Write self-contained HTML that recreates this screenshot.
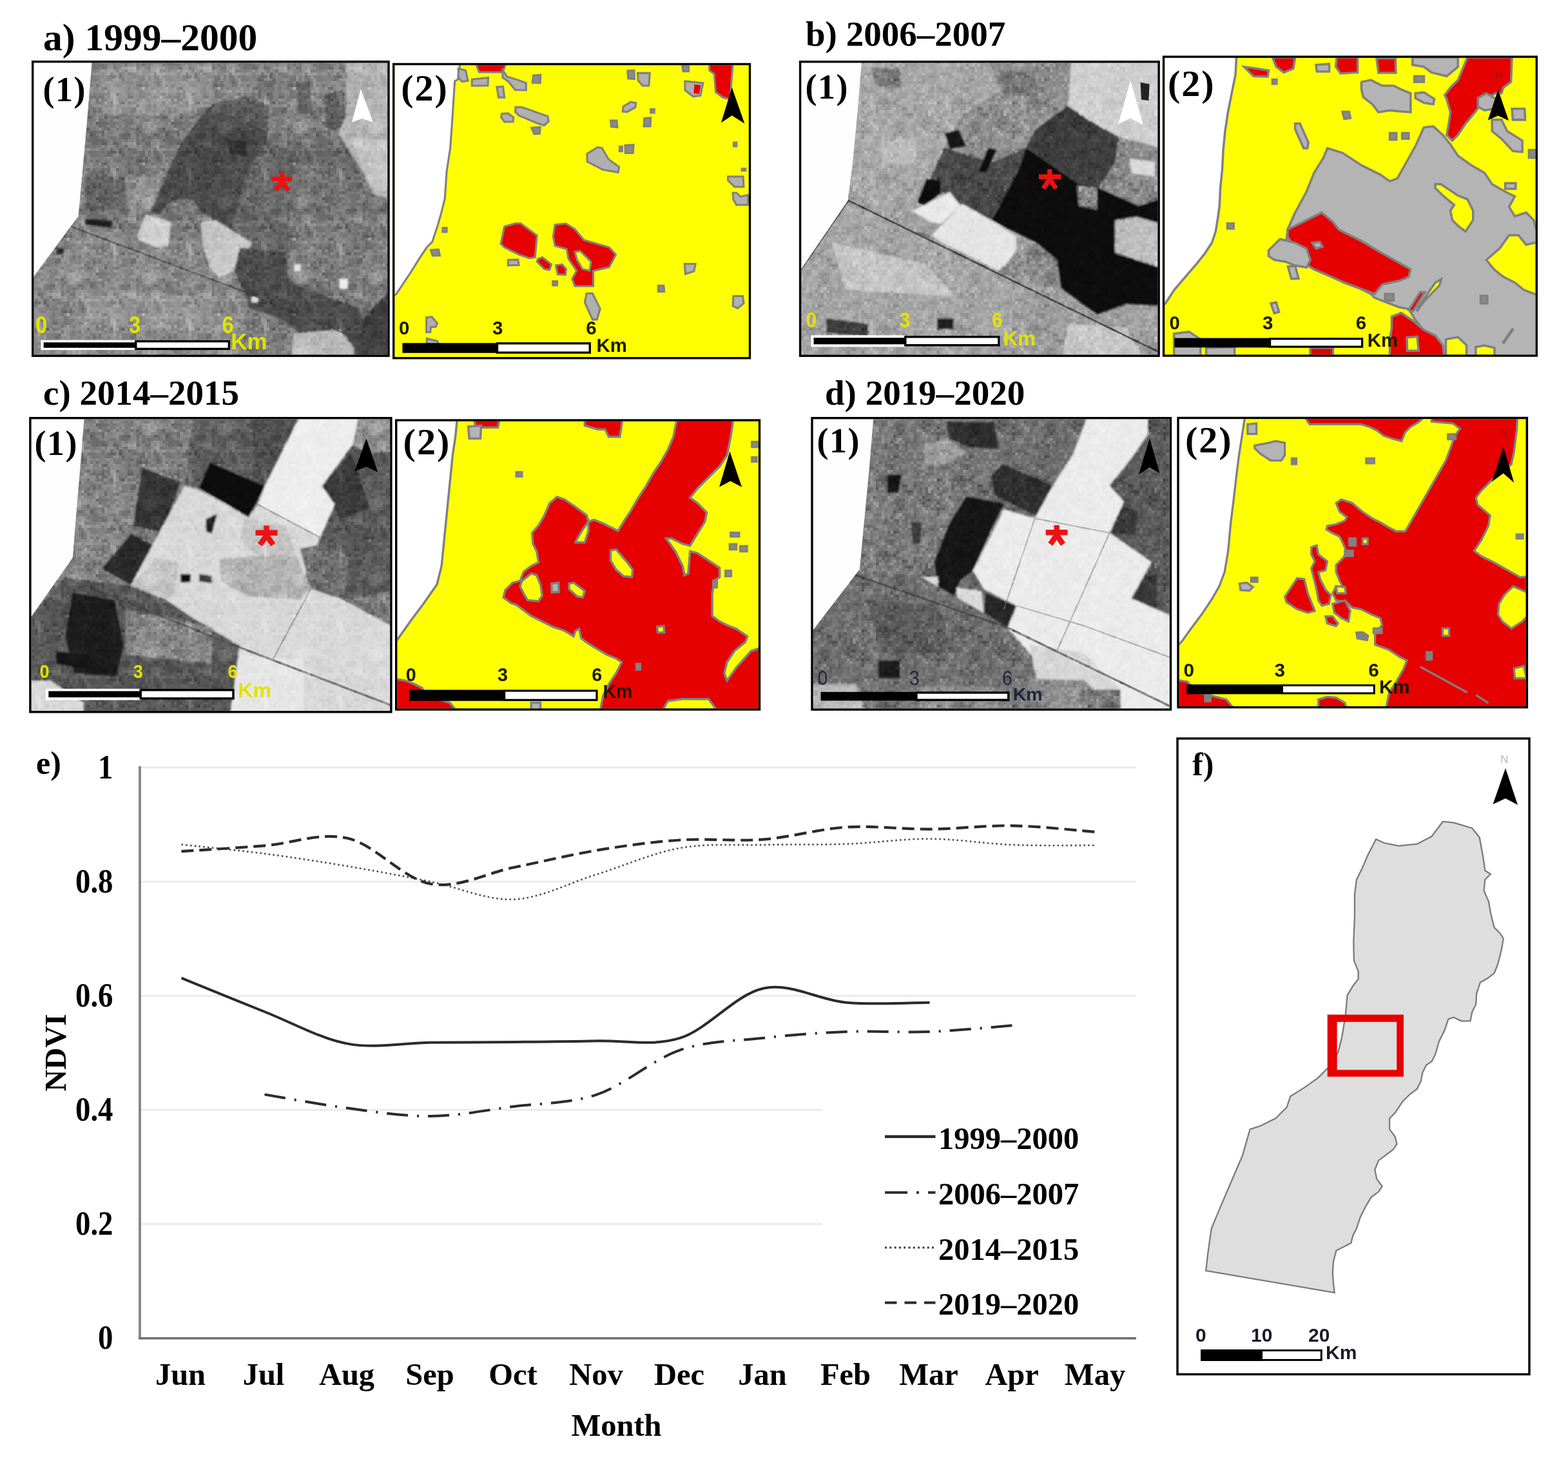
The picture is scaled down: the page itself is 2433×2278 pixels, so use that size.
<!DOCTYPE html>
<html><head><meta charset="utf-8"><title>NDVI figure</title><style>
html,body{margin:0;padding:0;background:#fff;overflow:hidden}
svg{display:block}
.t{font-family:"Liberation Serif","Times New Roman",serif;font-weight:bold;fill:#000}
.s{font-family:"Liberation Sans",Arial,sans-serif}
</style></head><body>
<svg width="2433" height="2278" viewBox="0 0 2433 2278">
<rect width="2433" height="2278" fill="#fff"/>
<!-- defs -->
<defs>
<clipPath id="ca1"><rect x="52.4" y="97.4" width="548.9" height="453.1"/></clipPath>
<clipPath id="ca2"><rect x="612.4" y="101.2" width="549.4" height="452.8"/></clipPath>
<clipPath id="cb1"><rect x="1243.3" y="97.5" width="553.1" height="453"/></clipPath>
<clipPath id="cb2"><rect x="1807.2" y="89.8" width="575.4" height="460.5"/></clipPath>
<clipPath id="cc1"><rect x="48.6" y="650.4" width="556.6" height="452.7"/></clipPath>
<clipPath id="cc2"><rect x="616.4" y="653.8" width="560.4" height="445.5"/></clipPath>
<clipPath id="cd1"><rect x="1261.7" y="650.4" width="553.1" height="449"/></clipPath>
<clipPath id="cd2"><rect x="1829.7" y="650.2" width="538" height="445.7"/></clipPath>
<filter id="noise" x="0" y="0" width="100%" height="100%">
<feTurbulence type="fractalNoise" baseFrequency="0.35" numOctaves="2" seed="3" result="n"/>
<feColorMatrix type="saturate" values="0"/>
</filter>
<filter id="blur4" x="-5%" y="-5%" width="110%" height="110%"><feGaussianBlur stdDeviation="9"/></filter>
<filter id="grain" x="0" y="0" width="100%" height="100%">
<feTurbulence type="fractalNoise" baseFrequency="0.22" numOctaves="2" seed="7"/>
<feColorMatrix type="matrix" values="0.33 0.33 0.33 0 0  0.33 0.33 0.33 0 0  0.33 0.33 0.33 0 0  0 0 0 0 1"/>
<feComponentTransfer><feFuncR type="linear" slope="2.2" intercept="-0.6"/><feFuncG type="linear" slope="2.2" intercept="-0.6"/><feFuncB type="linear" slope="2.2" intercept="-0.6"/></feComponentTransfer>
</filter>
<pattern id="pn1" width="117.0" height="117.0" patternUnits="userSpaceOnUse">
<path fill="#000" fill-opacity="0.300" d="M67.5 0.0h4.5v4.5h-4.5zM99.0 13.5h4.5v4.5h-4.5zM72.0 40.5h4.5v4.5h-4.5zM22.5 90.0h4.5v4.5h-4.5z"/>
<path fill="#000" fill-opacity="0.225" d="M54.0 0.0h4.5v4.5h-4.5zM58.5 0.0h4.5v4.5h-4.5zM72.0 4.5h4.5v4.5h-4.5zM9.0 9.0h4.5v4.5h-4.5zM94.5 13.5h4.5v4.5h-4.5zM108.0 13.5h4.5v4.5h-4.5zM45.0 18.0h4.5v4.5h-4.5zM40.5 31.5h4.5v4.5h-4.5zM81.0 31.5h4.5v4.5h-4.5zM85.5 31.5h4.5v4.5h-4.5zM90.0 49.5h4.5v4.5h-4.5zM27.0 54.0h4.5v4.5h-4.5zM85.5 54.0h4.5v4.5h-4.5zM18.0 63.0h4.5v4.5h-4.5zM45.0 63.0h4.5v4.5h-4.5zM31.5 72.0h4.5v4.5h-4.5zM18.0 81.0h4.5v4.5h-4.5zM94.5 81.0h4.5v4.5h-4.5zM4.5 90.0h4.5v4.5h-4.5zM81.0 90.0h4.5v4.5h-4.5zM40.5 103.5h4.5v4.5h-4.5zM45.0 103.5h4.5v4.5h-4.5zM58.5 103.5h4.5v4.5h-4.5zM67.5 112.5h4.5v4.5h-4.5z"/>
<path fill="#000" fill-opacity="0.150" d="M4.5 0.0h4.5v4.5h-4.5zM49.5 0.0h4.5v4.5h-4.5zM90.0 0.0h4.5v4.5h-4.5zM103.5 0.0h4.5v4.5h-4.5zM9.0 4.5h4.5v4.5h-4.5zM49.5 4.5h4.5v4.5h-4.5zM99.0 4.5h4.5v4.5h-4.5zM103.5 4.5h4.5v4.5h-4.5zM85.5 9.0h4.5v4.5h-4.5zM94.5 9.0h4.5v4.5h-4.5zM99.0 9.0h4.5v4.5h-4.5zM108.0 9.0h4.5v4.5h-4.5zM9.0 13.5h4.5v4.5h-4.5zM31.5 13.5h4.5v4.5h-4.5zM103.5 13.5h4.5v4.5h-4.5zM40.5 18.0h4.5v4.5h-4.5zM81.0 18.0h4.5v4.5h-4.5zM94.5 18.0h4.5v4.5h-4.5zM99.0 22.5h4.5v4.5h-4.5zM18.0 27.0h4.5v4.5h-4.5zM40.5 27.0h4.5v4.5h-4.5zM63.0 27.0h4.5v4.5h-4.5zM81.0 27.0h4.5v4.5h-4.5zM99.0 27.0h4.5v4.5h-4.5zM27.0 31.5h4.5v4.5h-4.5zM36.0 31.5h4.5v4.5h-4.5zM99.0 31.5h4.5v4.5h-4.5zM103.5 31.5h4.5v4.5h-4.5zM31.5 36.0h4.5v4.5h-4.5zM40.5 36.0h4.5v4.5h-4.5zM45.0 36.0h4.5v4.5h-4.5zM94.5 36.0h4.5v4.5h-4.5zM18.0 40.5h4.5v4.5h-4.5zM54.0 40.5h4.5v4.5h-4.5zM67.5 40.5h4.5v4.5h-4.5zM81.0 40.5h4.5v4.5h-4.5zM4.5 45.0h4.5v4.5h-4.5zM94.5 45.0h4.5v4.5h-4.5zM112.5 45.0h4.5v4.5h-4.5zM27.0 49.5h4.5v4.5h-4.5zM36.0 49.5h4.5v4.5h-4.5zM85.5 49.5h4.5v4.5h-4.5zM18.0 54.0h4.5v4.5h-4.5zM36.0 54.0h4.5v4.5h-4.5zM90.0 54.0h4.5v4.5h-4.5zM13.5 58.5h4.5v4.5h-4.5zM45.0 58.5h4.5v4.5h-4.5zM72.0 58.5h4.5v4.5h-4.5zM22.5 63.0h4.5v4.5h-4.5zM63.0 63.0h4.5v4.5h-4.5zM36.0 72.0h4.5v4.5h-4.5zM40.5 72.0h4.5v4.5h-4.5zM45.0 72.0h4.5v4.5h-4.5zM36.0 76.5h4.5v4.5h-4.5zM49.5 81.0h4.5v4.5h-4.5zM22.5 85.5h4.5v4.5h-4.5zM27.0 85.5h4.5v4.5h-4.5zM40.5 85.5h4.5v4.5h-4.5zM99.0 85.5h4.5v4.5h-4.5zM9.0 90.0h4.5v4.5h-4.5zM27.0 90.0h4.5v4.5h-4.5zM40.5 90.0h4.5v4.5h-4.5zM72.0 90.0h4.5v4.5h-4.5zM76.5 90.0h4.5v4.5h-4.5zM94.5 90.0h4.5v4.5h-4.5zM22.5 94.5h4.5v4.5h-4.5zM27.0 94.5h4.5v4.5h-4.5zM31.5 94.5h4.5v4.5h-4.5zM72.0 94.5h4.5v4.5h-4.5zM76.5 94.5h4.5v4.5h-4.5zM112.5 94.5h4.5v4.5h-4.5zM18.0 99.0h4.5v4.5h-4.5zM27.0 99.0h4.5v4.5h-4.5zM31.5 99.0h4.5v4.5h-4.5zM36.0 99.0h4.5v4.5h-4.5zM40.5 99.0h4.5v4.5h-4.5zM103.5 99.0h4.5v4.5h-4.5zM27.0 103.5h4.5v4.5h-4.5zM31.5 103.5h4.5v4.5h-4.5zM63.0 103.5h4.5v4.5h-4.5zM94.5 103.5h4.5v4.5h-4.5zM108.0 103.5h4.5v4.5h-4.5zM112.5 103.5h4.5v4.5h-4.5zM63.0 108.0h4.5v4.5h-4.5zM76.5 108.0h4.5v4.5h-4.5zM54.0 112.5h4.5v4.5h-4.5zM81.0 112.5h4.5v4.5h-4.5z"/>
<path fill="#000" fill-opacity="0.075" d="M9.0 0.0h4.5v4.5h-4.5zM18.0 0.0h4.5v4.5h-4.5zM22.5 0.0h4.5v4.5h-4.5zM27.0 0.0h4.5v4.5h-4.5zM40.5 0.0h4.5v4.5h-4.5zM72.0 0.0h4.5v4.5h-4.5zM85.5 0.0h4.5v4.5h-4.5zM94.5 0.0h4.5v4.5h-4.5zM99.0 0.0h4.5v4.5h-4.5zM112.5 0.0h4.5v4.5h-4.5zM4.5 4.5h4.5v4.5h-4.5zM22.5 4.5h4.5v4.5h-4.5zM27.0 4.5h4.5v4.5h-4.5zM31.5 4.5h4.5v4.5h-4.5zM45.0 4.5h4.5v4.5h-4.5zM54.0 4.5h4.5v4.5h-4.5zM81.0 4.5h4.5v4.5h-4.5zM112.5 4.5h4.5v4.5h-4.5zM4.5 9.0h4.5v4.5h-4.5zM13.5 9.0h4.5v4.5h-4.5zM72.0 9.0h4.5v4.5h-4.5zM76.5 9.0h4.5v4.5h-4.5zM81.0 9.0h4.5v4.5h-4.5zM13.5 13.5h4.5v4.5h-4.5zM22.5 13.5h4.5v4.5h-4.5zM63.0 13.5h4.5v4.5h-4.5zM67.5 13.5h4.5v4.5h-4.5zM81.0 13.5h4.5v4.5h-4.5zM112.5 13.5h4.5v4.5h-4.5zM0.0 18.0h4.5v4.5h-4.5zM90.0 18.0h4.5v4.5h-4.5zM108.0 18.0h4.5v4.5h-4.5zM49.5 22.5h4.5v4.5h-4.5zM76.5 22.5h4.5v4.5h-4.5zM81.0 22.5h4.5v4.5h-4.5zM103.5 22.5h4.5v4.5h-4.5zM27.0 27.0h4.5v4.5h-4.5zM45.0 27.0h4.5v4.5h-4.5zM49.5 27.0h4.5v4.5h-4.5zM85.5 27.0h4.5v4.5h-4.5zM103.5 27.0h4.5v4.5h-4.5zM108.0 27.0h4.5v4.5h-4.5zM112.5 27.0h4.5v4.5h-4.5zM4.5 31.5h4.5v4.5h-4.5zM22.5 31.5h4.5v4.5h-4.5zM31.5 31.5h4.5v4.5h-4.5zM49.5 31.5h4.5v4.5h-4.5zM94.5 31.5h4.5v4.5h-4.5zM108.0 31.5h4.5v4.5h-4.5zM67.5 36.0h4.5v4.5h-4.5zM76.5 36.0h4.5v4.5h-4.5zM112.5 36.0h4.5v4.5h-4.5zM31.5 40.5h4.5v4.5h-4.5zM36.0 40.5h4.5v4.5h-4.5zM40.5 40.5h4.5v4.5h-4.5zM85.5 40.5h4.5v4.5h-4.5zM90.0 40.5h4.5v4.5h-4.5zM45.0 45.0h4.5v4.5h-4.5zM54.0 45.0h4.5v4.5h-4.5zM22.5 49.5h4.5v4.5h-4.5zM72.0 49.5h4.5v4.5h-4.5zM76.5 49.5h4.5v4.5h-4.5zM81.0 49.5h4.5v4.5h-4.5zM108.0 49.5h4.5v4.5h-4.5zM112.5 49.5h4.5v4.5h-4.5zM4.5 54.0h4.5v4.5h-4.5zM31.5 54.0h4.5v4.5h-4.5zM49.5 54.0h4.5v4.5h-4.5zM72.0 54.0h4.5v4.5h-4.5zM76.5 54.0h4.5v4.5h-4.5zM81.0 54.0h4.5v4.5h-4.5zM18.0 58.5h4.5v4.5h-4.5zM27.0 58.5h4.5v4.5h-4.5zM67.5 58.5h4.5v4.5h-4.5zM76.5 58.5h4.5v4.5h-4.5zM85.5 58.5h4.5v4.5h-4.5zM9.0 63.0h4.5v4.5h-4.5zM58.5 63.0h4.5v4.5h-4.5zM94.5 63.0h4.5v4.5h-4.5zM36.0 67.5h4.5v4.5h-4.5zM40.5 67.5h4.5v4.5h-4.5zM54.0 67.5h4.5v4.5h-4.5zM76.5 67.5h4.5v4.5h-4.5zM85.5 67.5h4.5v4.5h-4.5zM108.0 67.5h4.5v4.5h-4.5zM49.5 72.0h4.5v4.5h-4.5zM58.5 72.0h4.5v4.5h-4.5zM81.0 72.0h4.5v4.5h-4.5zM85.5 72.0h4.5v4.5h-4.5zM40.5 76.5h4.5v4.5h-4.5zM45.0 76.5h4.5v4.5h-4.5zM54.0 76.5h4.5v4.5h-4.5zM76.5 76.5h4.5v4.5h-4.5zM99.0 76.5h4.5v4.5h-4.5zM13.5 81.0h4.5v4.5h-4.5zM45.0 81.0h4.5v4.5h-4.5zM63.0 81.0h4.5v4.5h-4.5zM85.5 81.0h4.5v4.5h-4.5zM13.5 85.5h4.5v4.5h-4.5zM18.0 85.5h4.5v4.5h-4.5zM31.5 85.5h4.5v4.5h-4.5zM36.0 85.5h4.5v4.5h-4.5zM76.5 85.5h4.5v4.5h-4.5zM94.5 85.5h4.5v4.5h-4.5zM67.5 90.0h4.5v4.5h-4.5zM103.5 90.0h4.5v4.5h-4.5zM0.0 94.5h4.5v4.5h-4.5zM9.0 94.5h4.5v4.5h-4.5zM13.5 94.5h4.5v4.5h-4.5zM54.0 94.5h4.5v4.5h-4.5zM58.5 94.5h4.5v4.5h-4.5zM67.5 94.5h4.5v4.5h-4.5zM81.0 94.5h4.5v4.5h-4.5zM94.5 94.5h4.5v4.5h-4.5zM103.5 94.5h4.5v4.5h-4.5zM108.0 94.5h4.5v4.5h-4.5zM22.5 99.0h4.5v4.5h-4.5zM45.0 99.0h4.5v4.5h-4.5zM58.5 99.0h4.5v4.5h-4.5zM76.5 99.0h4.5v4.5h-4.5zM94.5 99.0h4.5v4.5h-4.5zM112.5 99.0h4.5v4.5h-4.5zM22.5 103.5h4.5v4.5h-4.5zM36.0 103.5h4.5v4.5h-4.5zM13.5 108.0h4.5v4.5h-4.5zM18.0 108.0h4.5v4.5h-4.5zM27.0 108.0h4.5v4.5h-4.5zM112.5 108.0h4.5v4.5h-4.5zM4.5 112.5h4.5v4.5h-4.5zM40.5 112.5h4.5v4.5h-4.5zM72.0 112.5h4.5v4.5h-4.5zM85.5 112.5h4.5v4.5h-4.5zM90.0 112.5h4.5v4.5h-4.5z"/>
<path fill="#fff" fill-opacity="0.075" d="M0.0 0.0h4.5v4.5h-4.5zM63.0 0.0h4.5v4.5h-4.5zM0.0 4.5h4.5v4.5h-4.5zM90.0 4.5h4.5v4.5h-4.5zM108.0 4.5h4.5v4.5h-4.5zM22.5 9.0h4.5v4.5h-4.5zM31.5 9.0h4.5v4.5h-4.5zM45.0 9.0h4.5v4.5h-4.5zM54.0 9.0h4.5v4.5h-4.5zM112.5 9.0h4.5v4.5h-4.5zM0.0 13.5h4.5v4.5h-4.5zM27.0 13.5h4.5v4.5h-4.5zM40.5 13.5h4.5v4.5h-4.5zM72.0 13.5h4.5v4.5h-4.5zM9.0 18.0h4.5v4.5h-4.5zM18.0 18.0h4.5v4.5h-4.5zM49.5 18.0h4.5v4.5h-4.5zM54.0 18.0h4.5v4.5h-4.5zM63.0 18.0h4.5v4.5h-4.5zM67.5 18.0h4.5v4.5h-4.5zM112.5 18.0h4.5v4.5h-4.5zM27.0 22.5h4.5v4.5h-4.5zM31.5 22.5h4.5v4.5h-4.5zM36.0 22.5h4.5v4.5h-4.5zM58.5 22.5h4.5v4.5h-4.5zM67.5 22.5h4.5v4.5h-4.5zM72.0 22.5h4.5v4.5h-4.5zM90.0 22.5h4.5v4.5h-4.5zM108.0 22.5h4.5v4.5h-4.5zM112.5 22.5h4.5v4.5h-4.5zM0.0 27.0h4.5v4.5h-4.5zM4.5 27.0h4.5v4.5h-4.5zM9.0 27.0h4.5v4.5h-4.5zM22.5 27.0h4.5v4.5h-4.5zM72.0 27.0h4.5v4.5h-4.5zM18.0 31.5h4.5v4.5h-4.5zM63.0 31.5h4.5v4.5h-4.5zM112.5 31.5h4.5v4.5h-4.5zM0.0 36.0h4.5v4.5h-4.5zM4.5 36.0h4.5v4.5h-4.5zM22.5 36.0h4.5v4.5h-4.5zM49.5 36.0h4.5v4.5h-4.5zM54.0 36.0h4.5v4.5h-4.5zM63.0 36.0h4.5v4.5h-4.5zM81.0 36.0h4.5v4.5h-4.5zM85.5 36.0h4.5v4.5h-4.5zM0.0 40.5h4.5v4.5h-4.5zM4.5 40.5h4.5v4.5h-4.5zM9.0 40.5h4.5v4.5h-4.5zM13.5 40.5h4.5v4.5h-4.5zM27.0 40.5h4.5v4.5h-4.5zM76.5 40.5h4.5v4.5h-4.5zM94.5 40.5h4.5v4.5h-4.5zM108.0 40.5h4.5v4.5h-4.5zM27.0 45.0h4.5v4.5h-4.5zM31.5 45.0h4.5v4.5h-4.5zM72.0 45.0h4.5v4.5h-4.5zM76.5 45.0h4.5v4.5h-4.5zM85.5 45.0h4.5v4.5h-4.5zM103.5 45.0h4.5v4.5h-4.5zM13.5 49.5h4.5v4.5h-4.5zM18.0 49.5h4.5v4.5h-4.5zM40.5 49.5h4.5v4.5h-4.5zM45.0 49.5h4.5v4.5h-4.5zM49.5 49.5h4.5v4.5h-4.5zM54.0 49.5h4.5v4.5h-4.5zM67.5 49.5h4.5v4.5h-4.5zM103.5 49.5h4.5v4.5h-4.5zM9.0 54.0h4.5v4.5h-4.5zM45.0 54.0h4.5v4.5h-4.5zM54.0 54.0h4.5v4.5h-4.5zM58.5 54.0h4.5v4.5h-4.5zM94.5 54.0h4.5v4.5h-4.5zM4.5 58.5h4.5v4.5h-4.5zM31.5 58.5h4.5v4.5h-4.5zM36.0 58.5h4.5v4.5h-4.5zM63.0 58.5h4.5v4.5h-4.5zM90.0 58.5h4.5v4.5h-4.5zM94.5 58.5h4.5v4.5h-4.5zM99.0 58.5h4.5v4.5h-4.5zM0.0 63.0h4.5v4.5h-4.5zM27.0 63.0h4.5v4.5h-4.5zM40.5 63.0h4.5v4.5h-4.5zM72.0 63.0h4.5v4.5h-4.5zM76.5 63.0h4.5v4.5h-4.5zM85.5 63.0h4.5v4.5h-4.5zM90.0 63.0h4.5v4.5h-4.5zM99.0 63.0h4.5v4.5h-4.5zM112.5 63.0h4.5v4.5h-4.5zM4.5 67.5h4.5v4.5h-4.5zM49.5 67.5h4.5v4.5h-4.5zM67.5 67.5h4.5v4.5h-4.5zM99.0 67.5h4.5v4.5h-4.5zM103.5 67.5h4.5v4.5h-4.5zM112.5 67.5h4.5v4.5h-4.5zM9.0 72.0h4.5v4.5h-4.5zM18.0 72.0h4.5v4.5h-4.5zM67.5 72.0h4.5v4.5h-4.5zM72.0 72.0h4.5v4.5h-4.5zM90.0 72.0h4.5v4.5h-4.5zM99.0 72.0h4.5v4.5h-4.5zM18.0 76.5h4.5v4.5h-4.5zM22.5 76.5h4.5v4.5h-4.5zM27.0 76.5h4.5v4.5h-4.5zM31.5 76.5h4.5v4.5h-4.5zM49.5 76.5h4.5v4.5h-4.5zM22.5 81.0h4.5v4.5h-4.5zM31.5 81.0h4.5v4.5h-4.5zM54.0 81.0h4.5v4.5h-4.5zM67.5 81.0h4.5v4.5h-4.5zM103.5 81.0h4.5v4.5h-4.5zM0.0 85.5h4.5v4.5h-4.5zM4.5 85.5h4.5v4.5h-4.5zM58.5 85.5h4.5v4.5h-4.5zM72.0 85.5h4.5v4.5h-4.5zM103.5 85.5h4.5v4.5h-4.5zM18.0 90.0h4.5v4.5h-4.5zM36.0 90.0h4.5v4.5h-4.5zM45.0 90.0h4.5v4.5h-4.5zM49.5 90.0h4.5v4.5h-4.5zM54.0 90.0h4.5v4.5h-4.5zM85.5 90.0h4.5v4.5h-4.5zM90.0 90.0h4.5v4.5h-4.5zM112.5 90.0h4.5v4.5h-4.5zM45.0 94.5h4.5v4.5h-4.5zM63.0 94.5h4.5v4.5h-4.5zM85.5 94.5h4.5v4.5h-4.5zM90.0 94.5h4.5v4.5h-4.5zM99.0 94.5h4.5v4.5h-4.5zM0.0 99.0h4.5v4.5h-4.5zM13.5 99.0h4.5v4.5h-4.5zM54.0 99.0h4.5v4.5h-4.5zM72.0 99.0h4.5v4.5h-4.5zM81.0 99.0h4.5v4.5h-4.5zM85.5 99.0h4.5v4.5h-4.5zM4.5 103.5h4.5v4.5h-4.5zM13.5 103.5h4.5v4.5h-4.5zM18.0 103.5h4.5v4.5h-4.5zM49.5 103.5h4.5v4.5h-4.5zM54.0 103.5h4.5v4.5h-4.5zM103.5 103.5h4.5v4.5h-4.5zM0.0 108.0h4.5v4.5h-4.5zM58.5 108.0h4.5v4.5h-4.5zM67.5 108.0h4.5v4.5h-4.5zM94.5 108.0h4.5v4.5h-4.5zM22.5 112.5h4.5v4.5h-4.5zM27.0 112.5h4.5v4.5h-4.5zM36.0 112.5h4.5v4.5h-4.5zM45.0 112.5h4.5v4.5h-4.5zM58.5 112.5h4.5v4.5h-4.5zM63.0 112.5h4.5v4.5h-4.5zM76.5 112.5h4.5v4.5h-4.5zM94.5 112.5h4.5v4.5h-4.5zM112.5 112.5h4.5v4.5h-4.5z"/>
<path fill="#fff" fill-opacity="0.150" d="M13.5 0.0h4.5v4.5h-4.5zM108.0 0.0h4.5v4.5h-4.5zM18.0 4.5h4.5v4.5h-4.5zM58.5 4.5h4.5v4.5h-4.5zM63.0 4.5h4.5v4.5h-4.5zM18.0 9.0h4.5v4.5h-4.5zM49.5 9.0h4.5v4.5h-4.5zM18.0 13.5h4.5v4.5h-4.5zM54.0 13.5h4.5v4.5h-4.5zM36.0 18.0h4.5v4.5h-4.5zM58.5 18.0h4.5v4.5h-4.5zM0.0 22.5h4.5v4.5h-4.5zM13.5 22.5h4.5v4.5h-4.5zM18.0 22.5h4.5v4.5h-4.5zM22.5 22.5h4.5v4.5h-4.5zM45.0 22.5h4.5v4.5h-4.5zM54.0 22.5h4.5v4.5h-4.5zM63.0 22.5h4.5v4.5h-4.5zM54.0 31.5h4.5v4.5h-4.5zM13.5 36.0h4.5v4.5h-4.5zM18.0 36.0h4.5v4.5h-4.5zM27.0 36.0h4.5v4.5h-4.5zM36.0 36.0h4.5v4.5h-4.5zM103.5 36.0h4.5v4.5h-4.5zM22.5 40.5h4.5v4.5h-4.5zM45.0 40.5h4.5v4.5h-4.5zM99.0 40.5h4.5v4.5h-4.5zM103.5 40.5h4.5v4.5h-4.5zM9.0 45.0h4.5v4.5h-4.5zM36.0 45.0h4.5v4.5h-4.5zM58.5 45.0h4.5v4.5h-4.5zM90.0 45.0h4.5v4.5h-4.5zM99.0 45.0h4.5v4.5h-4.5zM94.5 49.5h4.5v4.5h-4.5zM99.0 49.5h4.5v4.5h-4.5zM67.5 54.0h4.5v4.5h-4.5zM103.5 54.0h4.5v4.5h-4.5zM0.0 58.5h4.5v4.5h-4.5zM58.5 58.5h4.5v4.5h-4.5zM112.5 58.5h4.5v4.5h-4.5zM31.5 63.0h4.5v4.5h-4.5zM108.0 63.0h4.5v4.5h-4.5zM58.5 67.5h4.5v4.5h-4.5zM63.0 67.5h4.5v4.5h-4.5zM90.0 67.5h4.5v4.5h-4.5zM4.5 72.0h4.5v4.5h-4.5zM13.5 72.0h4.5v4.5h-4.5zM27.0 72.0h4.5v4.5h-4.5zM94.5 72.0h4.5v4.5h-4.5zM103.5 72.0h4.5v4.5h-4.5zM0.0 76.5h4.5v4.5h-4.5zM9.0 76.5h4.5v4.5h-4.5zM13.5 76.5h4.5v4.5h-4.5zM63.0 76.5h4.5v4.5h-4.5zM72.0 76.5h4.5v4.5h-4.5zM85.5 76.5h4.5v4.5h-4.5zM90.0 76.5h4.5v4.5h-4.5zM108.0 76.5h4.5v4.5h-4.5zM58.5 81.0h4.5v4.5h-4.5zM108.0 81.0h4.5v4.5h-4.5zM45.0 85.5h4.5v4.5h-4.5zM63.0 85.5h4.5v4.5h-4.5zM67.5 85.5h4.5v4.5h-4.5zM85.5 85.5h4.5v4.5h-4.5zM58.5 90.0h4.5v4.5h-4.5zM63.0 90.0h4.5v4.5h-4.5zM4.5 99.0h4.5v4.5h-4.5zM9.0 99.0h4.5v4.5h-4.5zM90.0 99.0h4.5v4.5h-4.5zM0.0 103.5h4.5v4.5h-4.5zM72.0 103.5h4.5v4.5h-4.5zM76.5 103.5h4.5v4.5h-4.5zM40.5 108.0h4.5v4.5h-4.5zM49.5 108.0h4.5v4.5h-4.5zM54.0 108.0h4.5v4.5h-4.5zM81.0 108.0h4.5v4.5h-4.5zM85.5 108.0h4.5v4.5h-4.5zM99.0 108.0h4.5v4.5h-4.5zM0.0 112.5h4.5v4.5h-4.5zM13.5 112.5h4.5v4.5h-4.5zM31.5 112.5h4.5v4.5h-4.5zM49.5 112.5h4.5v4.5h-4.5zM99.0 112.5h4.5v4.5h-4.5z"/>
<path fill="#fff" fill-opacity="0.225" d="M22.5 18.0h4.5v4.5h-4.5zM4.5 22.5h4.5v4.5h-4.5zM54.0 27.0h4.5v4.5h-4.5zM58.5 27.0h4.5v4.5h-4.5zM9.0 36.0h4.5v4.5h-4.5zM63.0 40.5h4.5v4.5h-4.5zM58.5 49.5h4.5v4.5h-4.5zM9.0 58.5h4.5v4.5h-4.5zM0.0 67.5h4.5v4.5h-4.5zM9.0 67.5h4.5v4.5h-4.5zM31.5 67.5h4.5v4.5h-4.5zM94.5 67.5h4.5v4.5h-4.5zM0.0 72.0h4.5v4.5h-4.5zM108.0 72.0h4.5v4.5h-4.5zM103.5 76.5h4.5v4.5h-4.5zM4.5 81.0h4.5v4.5h-4.5zM36.0 81.0h4.5v4.5h-4.5zM112.5 81.0h4.5v4.5h-4.5zM108.0 85.5h4.5v4.5h-4.5zM112.5 85.5h4.5v4.5h-4.5zM9.0 103.5h4.5v4.5h-4.5zM81.0 103.5h4.5v4.5h-4.5zM85.5 103.5h4.5v4.5h-4.5zM4.5 108.0h4.5v4.5h-4.5zM90.0 108.0h4.5v4.5h-4.5zM9.0 112.5h4.5v4.5h-4.5zM18.0 112.5h4.5v4.5h-4.5z"/>
<path fill="#fff" fill-opacity="0.300" d="M103.5 18.0h4.5v4.5h-4.5zM13.5 31.5h4.5v4.5h-4.5zM58.5 31.5h4.5v4.5h-4.5zM58.5 36.0h4.5v4.5h-4.5zM58.5 40.5h4.5v4.5h-4.5zM112.5 72.0h4.5v4.5h-4.5zM4.5 76.5h4.5v4.5h-4.5zM112.5 76.5h4.5v4.5h-4.5zM0.0 81.0h4.5v4.5h-4.5zM90.0 103.5h4.5v4.5h-4.5zM9.0 108.0h4.5v4.5h-4.5z"/>
</pattern>
<pattern id="pn2" width="117.0" height="117.0" patternUnits="userSpaceOnUse">
<path fill="#000" fill-opacity="0.300" d="M99.0 4.5h4.5v4.5h-4.5zM85.5 36.0h4.5v4.5h-4.5zM49.5 40.5h4.5v4.5h-4.5zM85.5 40.5h4.5v4.5h-4.5zM99.0 40.5h4.5v4.5h-4.5zM112.5 49.5h4.5v4.5h-4.5zM4.5 58.5h4.5v4.5h-4.5zM27.0 67.5h4.5v4.5h-4.5zM36.0 72.0h4.5v4.5h-4.5zM27.0 76.5h4.5v4.5h-4.5zM49.5 76.5h4.5v4.5h-4.5zM49.5 85.5h4.5v4.5h-4.5zM108.0 85.5h4.5v4.5h-4.5z"/>
<path fill="#000" fill-opacity="0.225" d="M40.5 0.0h4.5v4.5h-4.5zM103.5 4.5h4.5v4.5h-4.5zM54.0 18.0h4.5v4.5h-4.5zM94.5 18.0h4.5v4.5h-4.5zM94.5 22.5h4.5v4.5h-4.5zM103.5 36.0h4.5v4.5h-4.5zM76.5 40.5h4.5v4.5h-4.5zM90.0 40.5h4.5v4.5h-4.5zM81.0 45.0h4.5v4.5h-4.5zM0.0 49.5h4.5v4.5h-4.5zM13.5 49.5h4.5v4.5h-4.5zM72.0 54.0h4.5v4.5h-4.5zM0.0 58.5h4.5v4.5h-4.5zM9.0 58.5h4.5v4.5h-4.5zM31.5 72.0h4.5v4.5h-4.5zM108.0 72.0h4.5v4.5h-4.5zM103.5 76.5h4.5v4.5h-4.5zM112.5 81.0h4.5v4.5h-4.5zM58.5 85.5h4.5v4.5h-4.5zM99.0 90.0h4.5v4.5h-4.5zM49.5 94.5h4.5v4.5h-4.5zM94.5 99.0h4.5v4.5h-4.5zM85.5 103.5h4.5v4.5h-4.5zM103.5 103.5h4.5v4.5h-4.5z"/>
<path fill="#000" fill-opacity="0.150" d="M36.0 0.0h4.5v4.5h-4.5zM67.5 0.0h4.5v4.5h-4.5zM27.0 4.5h4.5v4.5h-4.5zM90.0 4.5h4.5v4.5h-4.5zM27.0 9.0h4.5v4.5h-4.5zM94.5 9.0h4.5v4.5h-4.5zM49.5 13.5h4.5v4.5h-4.5zM76.5 13.5h4.5v4.5h-4.5zM40.5 18.0h4.5v4.5h-4.5zM85.5 18.0h4.5v4.5h-4.5zM90.0 18.0h4.5v4.5h-4.5zM36.0 22.5h4.5v4.5h-4.5zM58.5 22.5h4.5v4.5h-4.5zM63.0 22.5h4.5v4.5h-4.5zM72.0 27.0h4.5v4.5h-4.5zM18.0 31.5h4.5v4.5h-4.5zM31.5 31.5h4.5v4.5h-4.5zM76.5 36.0h4.5v4.5h-4.5zM81.0 36.0h4.5v4.5h-4.5zM54.0 40.5h4.5v4.5h-4.5zM72.0 40.5h4.5v4.5h-4.5zM81.0 40.5h4.5v4.5h-4.5zM94.5 40.5h4.5v4.5h-4.5zM13.5 45.0h4.5v4.5h-4.5zM22.5 45.0h4.5v4.5h-4.5zM90.0 45.0h4.5v4.5h-4.5zM103.5 45.0h4.5v4.5h-4.5zM72.0 49.5h4.5v4.5h-4.5zM85.5 49.5h4.5v4.5h-4.5zM90.0 49.5h4.5v4.5h-4.5zM22.5 54.0h4.5v4.5h-4.5zM31.5 54.0h4.5v4.5h-4.5zM49.5 54.0h4.5v4.5h-4.5zM22.5 58.5h4.5v4.5h-4.5zM31.5 58.5h4.5v4.5h-4.5zM58.5 58.5h4.5v4.5h-4.5zM90.0 58.5h4.5v4.5h-4.5zM4.5 63.0h4.5v4.5h-4.5zM31.5 63.0h4.5v4.5h-4.5zM36.0 63.0h4.5v4.5h-4.5zM54.0 63.0h4.5v4.5h-4.5zM67.5 67.5h4.5v4.5h-4.5zM22.5 72.0h4.5v4.5h-4.5zM81.0 72.0h4.5v4.5h-4.5zM103.5 72.0h4.5v4.5h-4.5zM112.5 72.0h4.5v4.5h-4.5zM31.5 81.0h4.5v4.5h-4.5zM103.5 81.0h4.5v4.5h-4.5zM108.0 81.0h4.5v4.5h-4.5zM40.5 85.5h4.5v4.5h-4.5zM54.0 85.5h4.5v4.5h-4.5zM49.5 90.0h4.5v4.5h-4.5zM13.5 94.5h4.5v4.5h-4.5zM0.0 99.0h4.5v4.5h-4.5zM13.5 99.0h4.5v4.5h-4.5zM0.0 103.5h4.5v4.5h-4.5zM99.0 103.5h4.5v4.5h-4.5zM85.5 108.0h4.5v4.5h-4.5zM103.5 108.0h4.5v4.5h-4.5zM58.5 112.5h4.5v4.5h-4.5z"/>
<path fill="#000" fill-opacity="0.075" d="M4.5 0.0h4.5v4.5h-4.5zM9.0 0.0h4.5v4.5h-4.5zM22.5 0.0h4.5v4.5h-4.5zM27.0 0.0h4.5v4.5h-4.5zM45.0 0.0h4.5v4.5h-4.5zM49.5 0.0h4.5v4.5h-4.5zM72.0 0.0h4.5v4.5h-4.5zM99.0 0.0h4.5v4.5h-4.5zM103.5 0.0h4.5v4.5h-4.5zM112.5 0.0h4.5v4.5h-4.5zM0.0 4.5h4.5v4.5h-4.5zM31.5 4.5h4.5v4.5h-4.5zM45.0 4.5h4.5v4.5h-4.5zM81.0 4.5h4.5v4.5h-4.5zM4.5 9.0h4.5v4.5h-4.5zM9.0 9.0h4.5v4.5h-4.5zM18.0 9.0h4.5v4.5h-4.5zM22.5 9.0h4.5v4.5h-4.5zM40.5 9.0h4.5v4.5h-4.5zM90.0 9.0h4.5v4.5h-4.5zM99.0 9.0h4.5v4.5h-4.5zM108.0 9.0h4.5v4.5h-4.5zM112.5 9.0h4.5v4.5h-4.5zM13.5 13.5h4.5v4.5h-4.5zM85.5 13.5h4.5v4.5h-4.5zM103.5 13.5h4.5v4.5h-4.5zM112.5 13.5h4.5v4.5h-4.5zM18.0 18.0h4.5v4.5h-4.5zM49.5 18.0h4.5v4.5h-4.5zM63.0 18.0h4.5v4.5h-4.5zM72.0 18.0h4.5v4.5h-4.5zM99.0 18.0h4.5v4.5h-4.5zM13.5 22.5h4.5v4.5h-4.5zM40.5 22.5h4.5v4.5h-4.5zM49.5 22.5h4.5v4.5h-4.5zM54.0 22.5h4.5v4.5h-4.5zM67.5 22.5h4.5v4.5h-4.5zM90.0 22.5h4.5v4.5h-4.5zM108.0 22.5h4.5v4.5h-4.5zM0.0 27.0h4.5v4.5h-4.5zM13.5 27.0h4.5v4.5h-4.5zM18.0 27.0h4.5v4.5h-4.5zM22.5 27.0h4.5v4.5h-4.5zM85.5 27.0h4.5v4.5h-4.5zM99.0 27.0h4.5v4.5h-4.5zM108.0 27.0h4.5v4.5h-4.5zM112.5 27.0h4.5v4.5h-4.5zM36.0 31.5h4.5v4.5h-4.5zM40.5 31.5h4.5v4.5h-4.5zM76.5 31.5h4.5v4.5h-4.5zM81.0 31.5h4.5v4.5h-4.5zM103.5 31.5h4.5v4.5h-4.5zM108.0 31.5h4.5v4.5h-4.5zM112.5 31.5h4.5v4.5h-4.5zM13.5 36.0h4.5v4.5h-4.5zM18.0 36.0h4.5v4.5h-4.5zM27.0 36.0h4.5v4.5h-4.5zM90.0 36.0h4.5v4.5h-4.5zM99.0 36.0h4.5v4.5h-4.5zM49.5 45.0h4.5v4.5h-4.5zM58.5 45.0h4.5v4.5h-4.5zM72.0 45.0h4.5v4.5h-4.5zM85.5 45.0h4.5v4.5h-4.5zM99.0 45.0h4.5v4.5h-4.5zM108.0 45.0h4.5v4.5h-4.5zM18.0 49.5h4.5v4.5h-4.5zM76.5 49.5h4.5v4.5h-4.5zM103.5 49.5h4.5v4.5h-4.5zM0.0 54.0h4.5v4.5h-4.5zM13.5 54.0h4.5v4.5h-4.5zM63.0 54.0h4.5v4.5h-4.5zM85.5 54.0h4.5v4.5h-4.5zM103.5 54.0h4.5v4.5h-4.5zM112.5 54.0h4.5v4.5h-4.5zM18.0 58.5h4.5v4.5h-4.5zM40.5 58.5h4.5v4.5h-4.5zM94.5 58.5h4.5v4.5h-4.5zM112.5 58.5h4.5v4.5h-4.5zM9.0 63.0h4.5v4.5h-4.5zM22.5 63.0h4.5v4.5h-4.5zM40.5 63.0h4.5v4.5h-4.5zM49.5 63.0h4.5v4.5h-4.5zM90.0 63.0h4.5v4.5h-4.5zM112.5 63.0h4.5v4.5h-4.5zM18.0 67.5h4.5v4.5h-4.5zM31.5 67.5h4.5v4.5h-4.5zM36.0 67.5h4.5v4.5h-4.5zM40.5 67.5h4.5v4.5h-4.5zM81.0 67.5h4.5v4.5h-4.5zM85.5 67.5h4.5v4.5h-4.5zM103.5 67.5h4.5v4.5h-4.5zM18.0 72.0h4.5v4.5h-4.5zM27.0 72.0h4.5v4.5h-4.5zM40.5 72.0h4.5v4.5h-4.5zM45.0 72.0h4.5v4.5h-4.5zM49.5 72.0h4.5v4.5h-4.5zM54.0 72.0h4.5v4.5h-4.5zM85.5 72.0h4.5v4.5h-4.5zM99.0 72.0h4.5v4.5h-4.5zM13.5 76.5h4.5v4.5h-4.5zM22.5 76.5h4.5v4.5h-4.5zM94.5 76.5h4.5v4.5h-4.5zM99.0 76.5h4.5v4.5h-4.5zM108.0 76.5h4.5v4.5h-4.5zM112.5 76.5h4.5v4.5h-4.5zM9.0 81.0h4.5v4.5h-4.5zM13.5 81.0h4.5v4.5h-4.5zM27.0 81.0h4.5v4.5h-4.5zM36.0 81.0h4.5v4.5h-4.5zM45.0 81.0h4.5v4.5h-4.5zM54.0 81.0h4.5v4.5h-4.5zM58.5 81.0h4.5v4.5h-4.5zM76.5 81.0h4.5v4.5h-4.5zM0.0 85.5h4.5v4.5h-4.5zM13.5 85.5h4.5v4.5h-4.5zM45.0 85.5h4.5v4.5h-4.5zM99.0 85.5h4.5v4.5h-4.5zM103.5 85.5h4.5v4.5h-4.5zM112.5 85.5h4.5v4.5h-4.5zM13.5 90.0h4.5v4.5h-4.5zM18.0 90.0h4.5v4.5h-4.5zM103.5 90.0h4.5v4.5h-4.5zM0.0 94.5h4.5v4.5h-4.5zM4.5 94.5h4.5v4.5h-4.5zM67.5 94.5h4.5v4.5h-4.5zM72.0 94.5h4.5v4.5h-4.5zM76.5 94.5h4.5v4.5h-4.5zM99.0 94.5h4.5v4.5h-4.5zM112.5 94.5h4.5v4.5h-4.5zM4.5 99.0h4.5v4.5h-4.5zM9.0 99.0h4.5v4.5h-4.5zM27.0 99.0h4.5v4.5h-4.5zM40.5 99.0h4.5v4.5h-4.5zM9.0 103.5h4.5v4.5h-4.5zM18.0 103.5h4.5v4.5h-4.5zM72.0 103.5h4.5v4.5h-4.5zM112.5 103.5h4.5v4.5h-4.5zM0.0 108.0h4.5v4.5h-4.5zM13.5 108.0h4.5v4.5h-4.5zM45.0 108.0h4.5v4.5h-4.5zM81.0 108.0h4.5v4.5h-4.5zM90.0 108.0h4.5v4.5h-4.5zM94.5 108.0h4.5v4.5h-4.5zM0.0 112.5h4.5v4.5h-4.5zM40.5 112.5h4.5v4.5h-4.5zM45.0 112.5h4.5v4.5h-4.5zM54.0 112.5h4.5v4.5h-4.5zM63.0 112.5h4.5v4.5h-4.5zM67.5 112.5h4.5v4.5h-4.5zM94.5 112.5h4.5v4.5h-4.5zM108.0 112.5h4.5v4.5h-4.5z"/>
<path fill="#fff" fill-opacity="0.075" d="M0.0 0.0h4.5v4.5h-4.5zM76.5 0.0h4.5v4.5h-4.5zM81.0 0.0h4.5v4.5h-4.5zM22.5 4.5h4.5v4.5h-4.5zM49.5 4.5h4.5v4.5h-4.5zM54.0 4.5h4.5v4.5h-4.5zM67.5 4.5h4.5v4.5h-4.5zM72.0 4.5h4.5v4.5h-4.5zM85.5 4.5h4.5v4.5h-4.5zM112.5 4.5h4.5v4.5h-4.5zM31.5 9.0h4.5v4.5h-4.5zM49.5 9.0h4.5v4.5h-4.5zM54.0 9.0h4.5v4.5h-4.5zM58.5 9.0h4.5v4.5h-4.5zM72.0 9.0h4.5v4.5h-4.5zM103.5 9.0h4.5v4.5h-4.5zM22.5 13.5h4.5v4.5h-4.5zM27.0 13.5h4.5v4.5h-4.5zM36.0 13.5h4.5v4.5h-4.5zM54.0 13.5h4.5v4.5h-4.5zM67.5 13.5h4.5v4.5h-4.5zM94.5 13.5h4.5v4.5h-4.5zM0.0 18.0h4.5v4.5h-4.5zM4.5 18.0h4.5v4.5h-4.5zM36.0 18.0h4.5v4.5h-4.5zM45.0 18.0h4.5v4.5h-4.5zM67.5 18.0h4.5v4.5h-4.5zM76.5 18.0h4.5v4.5h-4.5zM81.0 18.0h4.5v4.5h-4.5zM4.5 22.5h4.5v4.5h-4.5zM18.0 22.5h4.5v4.5h-4.5zM31.5 22.5h4.5v4.5h-4.5zM45.0 22.5h4.5v4.5h-4.5zM72.0 22.5h4.5v4.5h-4.5zM76.5 22.5h4.5v4.5h-4.5zM112.5 22.5h4.5v4.5h-4.5zM4.5 27.0h4.5v4.5h-4.5zM9.0 27.0h4.5v4.5h-4.5zM54.0 27.0h4.5v4.5h-4.5zM63.0 27.0h4.5v4.5h-4.5zM67.5 27.0h4.5v4.5h-4.5zM76.5 27.0h4.5v4.5h-4.5zM94.5 27.0h4.5v4.5h-4.5zM9.0 31.5h4.5v4.5h-4.5zM13.5 31.5h4.5v4.5h-4.5zM22.5 31.5h4.5v4.5h-4.5zM45.0 31.5h4.5v4.5h-4.5zM72.0 31.5h4.5v4.5h-4.5zM90.0 31.5h4.5v4.5h-4.5zM99.0 31.5h4.5v4.5h-4.5zM4.5 36.0h4.5v4.5h-4.5zM22.5 36.0h4.5v4.5h-4.5zM31.5 36.0h4.5v4.5h-4.5zM45.0 36.0h4.5v4.5h-4.5zM49.5 36.0h4.5v4.5h-4.5zM58.5 36.0h4.5v4.5h-4.5zM94.5 36.0h4.5v4.5h-4.5zM0.0 40.5h4.5v4.5h-4.5zM13.5 40.5h4.5v4.5h-4.5zM18.0 40.5h4.5v4.5h-4.5zM31.5 40.5h4.5v4.5h-4.5zM0.0 45.0h4.5v4.5h-4.5zM4.5 45.0h4.5v4.5h-4.5zM9.0 45.0h4.5v4.5h-4.5zM31.5 45.0h4.5v4.5h-4.5zM36.0 45.0h4.5v4.5h-4.5zM45.0 45.0h4.5v4.5h-4.5zM54.0 45.0h4.5v4.5h-4.5zM76.5 45.0h4.5v4.5h-4.5zM9.0 49.5h4.5v4.5h-4.5zM31.5 49.5h4.5v4.5h-4.5zM49.5 49.5h4.5v4.5h-4.5zM94.5 49.5h4.5v4.5h-4.5zM108.0 49.5h4.5v4.5h-4.5zM4.5 54.0h4.5v4.5h-4.5zM18.0 54.0h4.5v4.5h-4.5zM45.0 54.0h4.5v4.5h-4.5zM67.5 54.0h4.5v4.5h-4.5zM90.0 54.0h4.5v4.5h-4.5zM27.0 58.5h4.5v4.5h-4.5zM45.0 58.5h4.5v4.5h-4.5zM49.5 58.5h4.5v4.5h-4.5zM99.0 58.5h4.5v4.5h-4.5zM0.0 63.0h4.5v4.5h-4.5zM72.0 63.0h4.5v4.5h-4.5zM85.5 63.0h4.5v4.5h-4.5zM99.0 63.0h4.5v4.5h-4.5zM4.5 67.5h4.5v4.5h-4.5zM22.5 67.5h4.5v4.5h-4.5zM45.0 67.5h4.5v4.5h-4.5zM58.5 67.5h4.5v4.5h-4.5zM94.5 67.5h4.5v4.5h-4.5zM99.0 67.5h4.5v4.5h-4.5zM67.5 72.0h4.5v4.5h-4.5zM4.5 76.5h4.5v4.5h-4.5zM18.0 76.5h4.5v4.5h-4.5zM45.0 76.5h4.5v4.5h-4.5zM90.0 76.5h4.5v4.5h-4.5zM0.0 81.0h4.5v4.5h-4.5zM49.5 81.0h4.5v4.5h-4.5zM81.0 81.0h4.5v4.5h-4.5zM99.0 81.0h4.5v4.5h-4.5zM4.5 85.5h4.5v4.5h-4.5zM9.0 85.5h4.5v4.5h-4.5zM36.0 85.5h4.5v4.5h-4.5zM81.0 85.5h4.5v4.5h-4.5zM90.0 85.5h4.5v4.5h-4.5zM94.5 85.5h4.5v4.5h-4.5zM4.5 90.0h4.5v4.5h-4.5zM22.5 90.0h4.5v4.5h-4.5zM36.0 90.0h4.5v4.5h-4.5zM45.0 90.0h4.5v4.5h-4.5zM58.5 90.0h4.5v4.5h-4.5zM72.0 90.0h4.5v4.5h-4.5zM76.5 90.0h4.5v4.5h-4.5zM90.0 90.0h4.5v4.5h-4.5zM94.5 90.0h4.5v4.5h-4.5zM9.0 94.5h4.5v4.5h-4.5zM22.5 94.5h4.5v4.5h-4.5zM27.0 94.5h4.5v4.5h-4.5zM31.5 94.5h4.5v4.5h-4.5zM85.5 94.5h4.5v4.5h-4.5zM31.5 99.0h4.5v4.5h-4.5zM67.5 99.0h4.5v4.5h-4.5zM76.5 99.0h4.5v4.5h-4.5zM90.0 99.0h4.5v4.5h-4.5zM99.0 99.0h4.5v4.5h-4.5zM4.5 103.5h4.5v4.5h-4.5zM22.5 103.5h4.5v4.5h-4.5zM49.5 103.5h4.5v4.5h-4.5zM108.0 103.5h4.5v4.5h-4.5zM18.0 108.0h4.5v4.5h-4.5zM22.5 108.0h4.5v4.5h-4.5zM31.5 108.0h4.5v4.5h-4.5zM40.5 108.0h4.5v4.5h-4.5zM49.5 108.0h4.5v4.5h-4.5zM54.0 108.0h4.5v4.5h-4.5zM58.5 108.0h4.5v4.5h-4.5zM67.5 108.0h4.5v4.5h-4.5zM76.5 108.0h4.5v4.5h-4.5zM18.0 112.5h4.5v4.5h-4.5zM22.5 112.5h4.5v4.5h-4.5zM49.5 112.5h4.5v4.5h-4.5zM81.0 112.5h4.5v4.5h-4.5zM85.5 112.5h4.5v4.5h-4.5z"/>
<path fill="#fff" fill-opacity="0.150" d="M13.5 0.0h4.5v4.5h-4.5zM63.0 0.0h4.5v4.5h-4.5zM85.5 0.0h4.5v4.5h-4.5zM108.0 0.0h4.5v4.5h-4.5zM94.5 4.5h4.5v4.5h-4.5zM9.0 13.5h4.5v4.5h-4.5zM18.0 13.5h4.5v4.5h-4.5zM31.5 13.5h4.5v4.5h-4.5zM45.0 13.5h4.5v4.5h-4.5zM58.5 13.5h4.5v4.5h-4.5zM72.0 13.5h4.5v4.5h-4.5zM13.5 18.0h4.5v4.5h-4.5zM31.5 18.0h4.5v4.5h-4.5zM112.5 18.0h4.5v4.5h-4.5zM22.5 22.5h4.5v4.5h-4.5zM103.5 22.5h4.5v4.5h-4.5zM31.5 27.0h4.5v4.5h-4.5zM45.0 27.0h4.5v4.5h-4.5zM4.5 31.5h4.5v4.5h-4.5zM0.0 36.0h4.5v4.5h-4.5zM40.5 36.0h4.5v4.5h-4.5zM63.0 36.0h4.5v4.5h-4.5zM67.5 36.0h4.5v4.5h-4.5zM112.5 36.0h4.5v4.5h-4.5zM9.0 40.5h4.5v4.5h-4.5zM40.5 40.5h4.5v4.5h-4.5zM58.5 40.5h4.5v4.5h-4.5zM108.0 40.5h4.5v4.5h-4.5zM67.5 45.0h4.5v4.5h-4.5zM4.5 49.5h4.5v4.5h-4.5zM58.5 49.5h4.5v4.5h-4.5zM63.0 49.5h4.5v4.5h-4.5zM67.5 49.5h4.5v4.5h-4.5zM76.5 54.0h4.5v4.5h-4.5zM81.0 54.0h4.5v4.5h-4.5zM13.5 58.5h4.5v4.5h-4.5zM67.5 58.5h4.5v4.5h-4.5zM108.0 58.5h4.5v4.5h-4.5zM13.5 63.0h4.5v4.5h-4.5zM58.5 63.0h4.5v4.5h-4.5zM63.0 63.0h4.5v4.5h-4.5zM67.5 63.0h4.5v4.5h-4.5zM81.0 63.0h4.5v4.5h-4.5zM63.0 67.5h4.5v4.5h-4.5zM4.5 72.0h4.5v4.5h-4.5zM90.0 72.0h4.5v4.5h-4.5zM58.5 76.5h4.5v4.5h-4.5zM85.5 76.5h4.5v4.5h-4.5zM22.5 81.0h4.5v4.5h-4.5zM40.5 81.0h4.5v4.5h-4.5zM67.5 81.0h4.5v4.5h-4.5zM85.5 81.0h4.5v4.5h-4.5zM67.5 85.5h4.5v4.5h-4.5zM9.0 90.0h4.5v4.5h-4.5zM27.0 90.0h4.5v4.5h-4.5zM40.5 90.0h4.5v4.5h-4.5zM67.5 90.0h4.5v4.5h-4.5zM81.0 90.0h4.5v4.5h-4.5zM40.5 94.5h4.5v4.5h-4.5zM54.0 94.5h4.5v4.5h-4.5zM58.5 94.5h4.5v4.5h-4.5zM90.0 94.5h4.5v4.5h-4.5zM103.5 94.5h4.5v4.5h-4.5zM49.5 99.0h4.5v4.5h-4.5zM54.0 99.0h4.5v4.5h-4.5zM112.5 99.0h4.5v4.5h-4.5zM31.5 103.5h4.5v4.5h-4.5zM58.5 103.5h4.5v4.5h-4.5zM94.5 103.5h4.5v4.5h-4.5zM36.0 108.0h4.5v4.5h-4.5zM108.0 108.0h4.5v4.5h-4.5zM4.5 112.5h4.5v4.5h-4.5zM9.0 112.5h4.5v4.5h-4.5zM27.0 112.5h4.5v4.5h-4.5zM72.0 112.5h4.5v4.5h-4.5zM76.5 112.5h4.5v4.5h-4.5z"/>
<path fill="#fff" fill-opacity="0.225" d="M13.5 4.5h4.5v4.5h-4.5zM58.5 4.5h4.5v4.5h-4.5zM27.0 18.0h4.5v4.5h-4.5zM27.0 22.5h4.5v4.5h-4.5zM81.0 22.5h4.5v4.5h-4.5zM90.0 27.0h4.5v4.5h-4.5zM27.0 31.5h4.5v4.5h-4.5zM54.0 31.5h4.5v4.5h-4.5zM22.5 40.5h4.5v4.5h-4.5zM63.0 40.5h4.5v4.5h-4.5zM40.5 49.5h4.5v4.5h-4.5zM99.0 49.5h4.5v4.5h-4.5zM40.5 54.0h4.5v4.5h-4.5zM54.0 54.0h4.5v4.5h-4.5zM94.5 54.0h4.5v4.5h-4.5zM45.0 63.0h4.5v4.5h-4.5zM103.5 63.0h4.5v4.5h-4.5zM9.0 67.5h4.5v4.5h-4.5zM49.5 67.5h4.5v4.5h-4.5zM90.0 67.5h4.5v4.5h-4.5zM94.5 72.0h4.5v4.5h-4.5zM72.0 76.5h4.5v4.5h-4.5zM18.0 81.0h4.5v4.5h-4.5zM63.0 94.5h4.5v4.5h-4.5zM81.0 94.5h4.5v4.5h-4.5zM58.5 99.0h4.5v4.5h-4.5zM63.0 99.0h4.5v4.5h-4.5zM81.0 99.0h4.5v4.5h-4.5zM103.5 99.0h4.5v4.5h-4.5z"/>
<path fill="#fff" fill-opacity="0.300" d="M54.0 0.0h4.5v4.5h-4.5zM63.0 31.5h4.5v4.5h-4.5zM36.0 40.5h4.5v4.5h-4.5zM45.0 40.5h4.5v4.5h-4.5zM63.0 45.0h4.5v4.5h-4.5zM36.0 54.0h4.5v4.5h-4.5zM36.0 58.5h4.5v4.5h-4.5zM63.0 72.0h4.5v4.5h-4.5zM67.5 76.5h4.5v4.5h-4.5zM72.0 81.0h4.5v4.5h-4.5zM27.0 85.5h4.5v4.5h-4.5zM31.5 90.0h4.5v4.5h-4.5zM108.0 94.5h4.5v4.5h-4.5z"/>
</pattern>
<filter id="blur4b" x="-5%" y="-5%" width="110%" height="110%"><feGaussianBlur stdDeviation="1.6"/></filter>
<filter id="blur4c" x="-5%" y="-5%" width="110%" height="110%"><feGaussianBlur stdDeviation="5.6"/></filter>
</defs>

<!-- titles -->
<text x="67" y="78.4" class="t" font-size="59.5">a) 1999–2000</text>
<text x="1250" y="70.8" class="t" font-size="55">b) 2006–2007</text>
<text x="67" y="627.5" class="t" font-size="55">c) 2014–2015</text>
<text x="1280" y="627.5" class="t" font-size="55">d) 2019–2020</text>

<!-- a1 -->
<g clip-path="url(#ca1)">
<rect x="48" y="94" width="560" height="462" fill="#7c7c7c"/>
<g filter="url(#blur4b)">
<g transform="translate(48,94) scale(0.28069)">
<path fill="#858585" d="M340,0 L1750,0 L1740,250 L1300,260 L1000,240 L700,330 L330,330 Z"/>
<path fill="#939393" d="M380,40 L1000,20 L1020,240 L760,320 L400,300 Z"/>
<path fill="#6c6c6c" d="M1250,100 L1350,110 L1340,220 L1260,210 Z"/>
<path fill="#626262" d="M1470,120 L1540,120 L1560,300 L1480,300 Z"/>
<path fill="#5e5e5e" d="M1620,190 L1730,160 L1740,380 L1640,380 Z"/>
<path fill="#b2b2b2" d="M1740,0 L1990,0 L1990,760 L1900,740 L1830,610 L1760,500 L1700,400 L1745,300 Z"/>
<path fill="#c4c4c4" d="M1760,420 L1990,450 L1990,720 L1880,700 Z"/>
<path fill="#7a7a7a" d="M300,300 L760,300 L740,620 L660,830 L300,820 Z"/>
<path fill="#646464" d="M300,620 L520,650 L520,830 L300,830 Z"/>
<path fill="#8e8e8e" d="M520,640 L720,650 L660,830 L540,860 Z"/>
<path fill="#696969" d="M1200,420 L1750,480 L1850,720 L1990,780 L1990,1300 L1400,1250 L1220,1010 L1060,960 L1150,700 Z"/>
<path fill="#737373" d="M1450,560 L1800,620 L1900,900 L1700,950 L1480,850 Z"/>
<path fill="#878787" d="M0,1200 L200,950 L300,880 L590,950 L600,985 L940,1000 L960,1100 L1000,1180 L1080,1200 L1130,1240 L1200,1330 L1150,1639 L0,1639 Z"/>
</g>
<g transform="translate(150,150) scale(0.23139)">
<path fill="#4c4c4c" d="M360,770 L430,620 L480,500 L560,330 L620,240 L700,130 L780,60 L860,100 L1000,180 L1150,230 L1140,300 L1060,420 L1000,540 L970,640 L940,750 L920,860 L880,900 L800,830 L700,770 L640,700 L560,680 L480,720 L420,790 Z"/>
<path fill="#5c5c5c" d="M700,130 L780,40 L1000,0 L1150,60 L1150,230 L1000,180 L860,100 Z"/>
<path fill="#2e2e2e" d="M860,280 L1000,300 L1010,400 L900,380 Z"/>
<path fill="#767676" d="M560,680 L640,690 L700,770 L660,800 L560,780 Z"/>
<path fill="#cfcfcf" d="M270,930 L330,790 L500,840 L480,1000 L400,1010 L280,960 Z"/>
<path fill="#c6c6c6" d="M700,840 L800,830 L1040,980 L990,1080 L900,1180 L820,1210 L760,1150 L710,1000 Z"/>
</g>
<g transform="translate(48,320) scale(0.28169)">
<path fill="#4e4e4e" d="M1150,230 L1400,250 L1420,420 L1800,560 L1830,620 L1960,480 L1990,840 L1440,840 L1480,700 L1380,620 L1200,560 L1180,470 L1120,360 Z"/>
<path fill="#3e3e3e" d="M1830,620 L1990,450 L1990,840 L1800,840 Z"/>
<path fill="#b8b8b8" d="M1450,700 L1700,680 L1780,780 L1780,840 L1430,840 Z"/>
<path fill="#7c7c7c" d="M1420,30 L1990,30 L1990,420 L1830,560 L1420,400 Z"/>
<path fill="#e2e2e2" d="M1450,320 L1485,320 L1485,360 L1450,360 Z"/>
<path fill="#ececec" d="M1700,400 L1745,400 L1745,455 L1700,455 Z"/>
<path fill="#e0e0e0" d="M1215,500 L1250,500 L1250,530 L1215,530 Z"/>
<path fill="#1e1e1e" d="M300,70 L450,80 L440,120 L300,105 Z"/>
<path fill="#2a2a2a" d="M140,230 L180,230 L180,265 L140,265 Z"/>
<path fill="#959595" d="M300,450 L1000,500 L1100,700 L300,650 Z"/>
</g>
</g>
<g transform="translate(48,320) scale(0.28169)" fill="none" stroke="#444" stroke-width="9" opacity="0.6">
<path d="M215,110 L1200,480 L1990,810"/>
</g>
</g>
<rect x="48" y="94" width="560" height="462" fill="url(#pn1)" clip-path="url(#ca1)" style="mix-blend-mode:overlay"/>
<g transform="translate(48,94) scale(0.28069)">
<path fill="#fefefe" d="M0,0 L338,0 L315,280 L290,560 L262,860 L0,1215 Z"/>
<path d="M1823,158 L1892,341 L1831,321 L1774,341 Z" fill="#fff"/>
<g stroke="#ee1111" stroke-width="26" fill="none">
<path d="M1388,618 L1388,668 M1332,655 L1444,655 M1388,668 L1353,718 M1388,668 L1423,718"/>
</g>
</g>
<text x="66.5" y="157" class="t" font-size="54" letter-spacing="1.5">(1)</text>
<g transform="translate(48,94) scale(0.28069)">
<rect x="55" y="1545" width="520" height="55" fill="#fff"/>
<rect x="70" y="1558" width="505" height="30" fill="#000"/>
<rect x="580" y="1552" width="515" height="42" fill="#fff" stroke="#000" stroke-width="12"/>
</g>
<g class="s" fill="#e2e200">
<text transform="translate(56.0,517.0) scale(0.9,1)" font-size="36.3" font-weight="bold" x="-1">0</text>
<text transform="translate(201.0,517.0) scale(0.9,1)" font-size="36.3" font-weight="bold" x="-1">3</text>
<text transform="translate(345.4,517.0) scale(0.9,1)" font-size="36.3" font-weight="bold" x="-1">6</text>
<text x="358.2" y="542.0" font-size="35.0" font-weight="bold">Km</text>
</g>

<!-- a2 -->
<g clip-path="url(#ca2)">
<rect x="609" y="98" width="560" height="462" fill="#ffff00"/>
<g transform="translate(609,98) scale(0.28018)" stroke="#808080" stroke-width="11" stroke-linejoin="miter">
<path d="M0,0 L375,0 L362,90 L345,100 L330,330 L320,470 L300,600 L290,750 L270,830 L250,900 L220,990 L190,1020 L150,1080 L100,1160 L20,1280 L0,1290 Z" fill="#fff"/>
<g fill="#e60000">
<path d="M620,905 L680,888 L710,888 L800,955 L790,1075 L760,1080 L700,1060 L620,1020 L600,1000 Z"/>
<path d="M900,895 L960,888 L1010,920 L1060,980 L1200,1020 L1237,1060 L1200,1130 L1112,1150 L1112,1235 L1010,1235 L995,1195 L1020,1150 L975,1085 L965,1030 L900,1012 L890,960 Z M1010,1045 L1040,1040 L1100,1100 L1092,1150 L1052,1140 L1022,1090 Z" fill-rule="evenodd"/>
<path d="M805,1085 L830,1075 L880,1115 L870,1145 L840,1140 L800,1100 Z"/>
<path d="M905,1120 L940,1115 L962,1140 L958,1172 L915,1170 Z"/>
<path d="M460,0 L630,0 L610,50 L480,50 Z"/>
<path d="M1755,0 L1885,0 L1875,130 L1872,200 L1830,190 L1790,160 L1782,60 L1755,40 Z"/>
<path fill="#b0b0b0" d="M1620,100 L1720,110 L1705,180 L1665,185 L1620,150 Z"/>
<path d="M1672,118 L1708,122 L1698,170 L1668,168 Z" stroke="none"/>
</g>
<g fill="#b0b0b0">
<path d="M440,90 L530,80 L528,125 L440,125 Z"/>
<path d="M578,132 L612,130 L620,190 L588,190 Z"/>
<path d="M605,280 L640,278 L670,300 L668,325 L620,325 L602,300 Z"/>
<path d="M682,243 L720,245 L860,295 L865,322 L840,345 L800,332 L700,290 L680,270 Z"/>
<path fill="#8a8a8a" d="M770,358 L818,355 L815,390 L785,392 Z"/>
<path fill="#8a8a8a" d="M780,68 L820,65 L818,110 L775,108 Z"/>
<path d="M610,40 L635,75 L700,95 L740,110 L740,150 L680,148 L640,100 L610,80 Z"/>
<path fill="#8a8a8a" d="M1302,42 L1338,40 L1340,88 L1305,85 Z"/>
<path d="M1358,55 L1425,55 L1420,125 L1385,125 L1360,95 Z"/>
<path d="M1278,240 L1320,215 L1348,220 L1345,245 L1300,270 L1275,268 Z"/>
<path fill="#8a8a8a" d="M1208,318 L1242,318 L1245,355 L1212,352 Z"/>
<path fill="#8a8a8a" d="M1395,305 L1430,302 L1428,350 L1392,350 Z"/>
<path fill="#8a8a8a" d="M1288,455 L1335,452 L1332,498 L1290,498 Z"/>
<path d="M1078,502 L1135,466 L1160,470 L1196,532 L1255,575 L1250,605 L1165,590 L1078,545 Z"/>
<path d="M1858,628 L1942,628 L1945,685 L1895,685 L1858,650 Z"/>
<path d="M1885,718 L1905,718 L1928,740 L1968,730 L1970,785 L1905,785 L1888,755 Z"/>
<path d="M1618,1112 L1678,1112 L1670,1152 L1622,1168 Z"/>
<path fill="#8a8a8a" d="M1472,1232 L1502,1232 L1505,1265 L1472,1265 Z"/>
<path d="M1888,1290 L1940,1290 L1945,1330 L1912,1358 L1885,1345 Z"/>
<path d="M1075,1275 L1108,1275 L1150,1360 L1132,1420 L1108,1420 L1065,1325 Z"/>
<path d="M188,1408 L218,1405 L248,1440 L240,1460 L212,1462 L210,1490 L188,1490 Z"/>
<path d="M640,1090 L695,1088 L700,1118 L640,1120 Z"/>
<path fill="#8a8a8a" d="M212,1035 L255,1032 L262,1065 L222,1066 Z"/>
<path fill="#8a8a8a" d="M278,912 L300,912 L300,935 L278,935 Z"/>
<path fill="#8a8a8a" d="M888,1208 L912,1208 L912,1230 L888,1230 Z"/>
<path d="M365,30 L405,40 L418,98 L385,102 L365,80 Z"/>
<path fill="#8a8a8a" d="M1605,15 L1640,15 L1640,45 L1610,45 Z"/>
<path fill="#8a8a8a" d="M1258,462 L1272,462 L1272,488 L1258,488 Z"/>
<path fill="#8a8a8a" d="M1430,255 L1450,255 L1450,275 L1430,275 Z"/>
<path fill="#8a8a8a" d="M1890,440 L1905,440 L1905,460 L1890,460 Z"/>
<path fill="#8a8a8a" d="M1935,585 L1955,585 L1955,595 L1935,595 Z"/>
<path d="M190,1525 L250,1540 L255,1570 L190,1570 Z"/>
</g>
<path d="M1880,135 L1950,335 L1880,290 L1820,330 Z" fill="#000" stroke="none"/>
</g>
<text x="622.2" y="156.3" class="t" font-size="58" letter-spacing="2">(2)</text>
<g transform="translate(609,98) scale(0.28018)">
<rect x="55" y="1550" width="525" height="55" fill="#000"/>
<rect x="580" y="1552" width="513" height="51" fill="#fff" stroke="#000" stroke-width="12"/>
<g class="s" font-size="105" font-weight="bold" fill="#1a1a00">
<text x="36" y="1503">0</text>
<text x="553" y="1503">3</text>
<text x="1072" y="1503">6</text>
<text x="1130" y="1598">Km</text>
</g>
</g>
</g>

<!-- b1 -->
<g clip-path="url(#cb1)">
<rect x="1240" y="94" width="562" height="462" fill="#a0a0a0"/>
<g filter="url(#blur4b)">
<g transform="translate(1240,94) scale(0.28169)">
<path fill="#a6a6a6" d="M340,0 L1050,0 L1100,170 L900,300 L800,480 L720,650 L620,830 L270,770 L300,400 Z"/>
<path fill="#7a7a7a" d="M400,40 L560,50 L560,150 L420,140 Z"/>
<path fill="#bcbcbc" d="M450,450 L650,420 L640,560 L460,580 Z"/>
<path fill="#8e8e8e" d="M1050,0 L1500,0 L1480,250 L1300,380 L1250,480 L1060,560 L800,480 L900,300 L1100,170 Z"/>
<path fill="#767676" d="M1100,50 L1300,60 L1310,200 L1120,190 Z"/>
<path fill="#cecece" d="M1500,0 L1990,0 L1990,480 L1760,420 L1600,330 L1480,250 Z"/>
<path fill="#3e3e3e" d="M1300,380 L1480,250 L1600,330 L1760,420 L1740,560 L1650,700 L1540,680 L1250,480 Z"/>
<path fill="#8c8c8c" d="M1760,420 L1990,480 L1990,760 L1870,800 L1650,700 L1740,560 Z"/>
<path fill="#d8d8d8" d="M1820,540 L1960,560 L1960,640 L1830,620 Z"/>
<path fill="#4a4a4a" d="M720,650 L800,480 L1060,560 L1250,480 L1210,600 L1060,880 L890,800 L780,720 Z"/>
<path fill="#151515" d="M800,400 L880,380 L920,470 L830,490 Z"/>
<path fill="#101010" d="M1040,480 L1090,490 L1030,620 L990,610 Z"/>
<path fill="#111111" d="M700,650 L780,660 L780,730 L690,800 L650,780 Z"/>
<path fill="#0e0e0e" d="M1060,880 L1210,600 L1250,480 L1540,680 L1650,700 L1870,800 L1990,760 L1990,1350 L1800,1340 L1640,1400 L1440,1250 L1420,1100 L1300,1000 Z"/>
<path fill="#8c8c8c" d="M1530,690 L1640,700 L1640,820 L1540,800 Z"/>
<path fill="#bdbdbd" d="M1740,880 L1860,860 L1990,900 L1990,1140 L1740,1060 Z"/>
<path fill="#e8e8e8" d="M620,830 L700,790 L830,725 L890,800 L780,900 L730,890 Z"/>
<path fill="#e4e4e4" d="M730,960 L900,790 L1060,880 L1200,970 L1190,1060 L1100,1160 L980,1100 L780,1000 Z"/>
<path fill="#6a6a6a" d="M520,920 L720,960 L720,1010 L540,980 Z"/>
<path fill="#8a8a8a" d="M1100,1160 L1200,1060 L1300,1000 L1420,1100 L1440,1250 L1300,1240 Z"/>
<path fill="#a4a4a4" d="M0,1160 L270,770 L1100,1175 L1990,1610 L1990,1640 L0,1640 Z"/>
<path fill="#c4c4c4" d="M180,1000 L700,1120 L860,1300 L260,1260 Z"/>
<path fill="#9c9c9c" d="M1200,1180 L1600,1380 L1990,1580 L1990,1640 L1150,1640 Z"/>
<path fill="#c6c6c6" d="M1480,1450 L1800,1470 L1900,1640 L1450,1640 Z"/>
<path fill="#1a1a1a" d="M760,1420 L850,1420 L850,1480 L760,1480 Z"/>
<path fill="#3a3a3a" d="M150,1420 L380,1450 L380,1520 L150,1500 Z"/>
</g>
</g>
<g transform="translate(1240,94) scale(0.28169)" fill="none" stroke="#333" stroke-width="10" opacity="0.75">
<path d="M270,770 L1990,1610"/>
<path d="M0,1165 L270,770"/>
</g>
</g>
<rect x="1240" y="94" width="562" height="462" fill="url(#pn2)" clip-path="url(#cb1)" style="mix-blend-mode:overlay"/>
<g transform="translate(1240,94) scale(0.28169)">
<path fill="#fefefe" d="M0,0 L345,0 L320,300 L295,560 L268,772 L0,1165 Z"/>
<path d="M1825,110 L1895,355 L1825,318 L1758,350 Z" fill="#fff"/>
<path d="M1880,120 L1930,130 L1925,220 L1885,215 Z" fill="#222"/>
<g stroke="#ee1111" stroke-width="26" fill="none">
<path d="M1380,598 L1380,652 M1320,640 L1442,640 M1380,652 L1345,705 M1380,652 L1415,705"/>
</g>
</g>
<text x="1249.5" y="152.5" class="t" font-size="54" letter-spacing="1.5">(1)</text>
<g transform="translate(1240,94) scale(0.28169)">
<rect x="65" y="1513" width="520" height="64" fill="#fff"/>
<rect x="80" y="1527" width="505" height="36" fill="#000"/>
<rect x="585" y="1522" width="515" height="46" fill="#fff" stroke="#000" stroke-width="12"/>
</g>
<g class="s" fill="#e2e200">
<text transform="translate(1251.3,508.0) scale(0.9,1)" font-size="33.5" font-weight="bold" x="-1">0</text>
<text transform="translate(1396.3,508.0) scale(0.9,1)" font-size="33.5" font-weight="bold" x="-1">3</text>
<text transform="translate(1540.0,508.0) scale(0.9,1)" font-size="33.5" font-weight="bold" x="-1">6</text>
<text x="1556.8" y="536.0" font-size="31.0" font-weight="bold">Km</text>
</g>

<!-- b2 -->
<g clip-path="url(#cb2)">
<rect x="1804" y="86" width="586" height="472" fill="#ffff00"/>
<g transform="translate(1804,86) scale(0.29376)" stroke="#808080" stroke-width="12">
<path d="M0,0 L390,0 L385,100 L365,200 L345,300 L330,400 L320,500 L315,600 L305,700 L300,800 L290,870 L280,930 L260,990 L220,1050 L180,1100 L120,1170 L60,1240 L15,1310 L0,1320 Z" fill="#fff"/>
<path fill="#b4b4b4" d="M660,920 L700,830 L760,720 L800,620 L850,540 L870,490 L950,515 L1050,580 L1150,630 L1200,665 L1240,650 L1290,560 L1340,470 L1380,380 L1430,375 L1480,420 L1520,470 L1560,530 L1630,580 L1700,620 L1740,680 L1810,720 L1860,745 L1830,800 L1860,850 L1920,830 L1960,870 L1990,980 L1990,1610 L1530,1610 L1470,1560 L1400,1480 L1330,1390 L1300,1340 L1250,1330 L1170,1300 L1120,1280 L1100,1260 L1040,1230 L960,1200 L870,1160 L800,1130 L750,1100 L700,1050 L650,1010 Z"/>
<path fill="#ffff00" d="M1440,680 L1470,680 L1560,740 L1610,760 L1640,820 L1640,870 L1600,930 L1560,900 L1530,870 L1520,820 L1540,790 L1480,740 L1440,700 Z"/>
<path fill="#ffff00" d="M1710,1080 L1780,1020 L1830,950 L1880,950 L1920,1000 L1990,985 L1990,1270 L1910,1240 L1860,1200 L1800,1170 L1750,1130 Z"/>
<path fill="#e60000" d="M660,920 L760,870 L840,830 L900,880 L930,920 L1050,980 L1150,1040 L1240,1090 L1310,1130 L1300,1170 L1250,1190 L1160,1210 L1120,1260 L1040,1230 L960,1200 L870,1160 L800,1130 L750,1100 L760,1060 L700,1010 L660,960 Z"/>
<path fill="#b4b4b4" d="M560,1030 L620,970 L700,990 L760,1020 L780,1080 L760,1120 L700,1110 L650,1090 L590,1080 L560,1060 Z"/>
<path fill="#b4b4b4" d="M790,990 L830,985 L845,1010 L810,1020 Z"/>
<path fill="#e60000" d="M1610,10 L1845,10 L1840,140 L1800,170 L1790,200 L1760,200 L1700,230 L1650,300 L1600,360 L1560,420 L1530,450 L1500,420 L1510,370 L1520,300 L1500,230 L1490,210 L1520,170 L1560,130 L1590,60 Z"/>
<path fill="#b4b4b4" d="M1665,225 L1710,200 L1760,230 L1760,280 L1700,290 L1665,270 Z"/>
<path fill="#b4b4b4" d="M1740,340 L1790,340 L1820,400 L1900,450 L1900,510 L1850,505 L1790,440 L1740,400 Z"/>
<path fill="#b4b4b4" d="M1845,282 L1912,282 L1915,340 L1850,340 Z"/>
<path fill="#b4b4b4" d="M1050,140 L1100,130 L1160,160 L1220,160 L1260,180 L1310,200 L1310,300 L1250,295 L1200,290 L1140,300 L1110,260 L1060,220 L1050,180 Z"/>
<path fill="#b4b4b4" d="M1335,200 L1380,195 L1435,230 L1430,258 L1380,250 L1335,225 Z"/>
<path fill="#b4b4b4" d="M1320,10 L1560,10 L1560,60 L1500,110 L1420,90 L1380,60 L1320,50 Z"/>
<path fill="#8a8a8a" d="M1330,110 L1380,110 L1380,140 L1330,140 Z"/>
<path fill="#e60000" d="M430,60 L500,70 L560,80 L555,112 L480,110 Z"/>
<path fill="#e60000" d="M580,10 L700,10 L690,70 L640,90 L600,60 Z"/>
<path fill="#e60000" d="M920,10 L1030,10 L1030,90 L940,95 L915,60 Z"/>
<path fill="#e60000" d="M1130,15 L1230,15 L1232,92 L1140,92 Z"/>
<path fill="#b4b4b4" d="M810,50 L880,45 L880,85 L815,85 Z"/>
<path fill="#b4b4b4" d="M700,360 L725,360 L770,460 L765,490 L745,490 L700,390 Z"/>
<path fill="#8a8a8a" d="M950,298 L985,298 L992,330 L960,335 Z"/>
<path fill="#8a8a8a" d="M1200,410 L1235,410 L1235,445 L1200,445 Z"/>
<path fill="#8a8a8a" d="M1265,410 L1300,410 L1300,440 L1265,440 Z"/>
<path fill="#8a8a8a" d="M580,128 L602,128 L602,150 L580,150 Z"/>
<path fill="#8a8a8a" d="M342,888 L375,888 L375,915 L342,915 Z"/>
<path fill="#b4b4b4" d="M572,1310 L600,1305 L615,1355 L590,1362 Z"/>
<path fill="#b4b4b4" d="M662,1115 L700,1112 L718,1178 L680,1180 Z"/>
<path fill="#b4b4b4" d="M1810,675 L1865,675 L1865,705 L1810,705 Z"/>
<path fill="#8a8a8a" d="M1935,500 L1975,500 L1975,540 L1935,540 Z"/>
<path fill="#8a8a8a" d="M1680,1270 L1715,1270 L1715,1310 L1680,1310 Z"/>
<path fill="#8a8a8a" d="M1175,1260 L1220,1260 L1220,1295 L1175,1295 Z"/>
<path fill="#e60000" d="M1210,1380 L1260,1360 L1320,1400 L1380,1450 L1440,1480 L1480,1530 L1490,1610 L1200,1610 L1200,1500 L1210,1440 Z"/>
<path fill="#ffff00" d="M1290,1490 L1345,1485 L1352,1560 L1292,1560 Z"/>
<path fill="#ffff00" d="M1350,1330 L1440,1200 L1472,1182 L1462,1215 L1380,1300 L1342,1352 Z"/>
<path fill="#e60000" d="M1300,1345 L1360,1250 L1385,1250 L1322,1352 Z"/>
<path fill="#b4b4b4" d="M60,1470 L140,1460 L200,1500 L200,1610 L60,1610 Z"/>
<path fill="#b4b4b4" d="M230,1545 L380,1540 L380,1610 L230,1610 Z"/>
<path fill="#e60000" d="M780,1545 L900,1545 L900,1610 L780,1610 Z"/>
<path fill="#ffff00" d="M1654,1540 L1700,1532 L1753,1545 L1753,1610 L1654,1610 Z"/>
<path fill="none" stroke-width="16" d="M1852,1443 L1797,1521"/>
<path fill="#ffff00" d="M1496,1500 L1560,1488 L1605,1530 L1605,1610 L1496,1610 Z"/>
<path d="M1772,180 L1828,345 L1772,318 L1718,342 Z" fill="#000" stroke="none"/>
</g>
<text x="1812" y="148.5" class="t" font-size="58" letter-spacing="2">(2)</text>
<g transform="translate(1804,86) scale(0.29376)">
<rect x="62" y="1493" width="505" height="50" fill="#000"/>
<rect x="567" y="1497" width="487" height="42" fill="#fff" stroke="#000" stroke-width="11"/>
<g class="s" font-size="100" font-weight="bold" fill="#1a1a00">
<text x="36" y="1447">0</text>
<text x="528" y="1447">3</text>
<text x="1020" y="1447">6</text>
<text x="1082" y="1538">Km</text>
</g>
<text x="1760" y="122" class="s" font-size="48" fill="#8a2020">N</text>
</g>
</g>

<!-- c1 -->
<g clip-path="url(#cc1)">
<rect x="44" y="646" width="568" height="464" fill="#7a7a7a"/>
<g transform="translate(44,646) scale(0.2847)">
<g filter="url(#blur4c)">
<path fill="#7e7e7e" d="M300,0 L900,0 L850,380 L720,640 L540,920 L230,900 L260,400 Z"/>
<path fill="#858585" d="M270,420 L560,330 L560,620 L420,800 L250,780 Z"/>
<path fill="#343434" d="M620,280 L830,360 L730,630 L570,600 Z"/>
<path fill="#2c2c2c" d="M400,830 L560,640 L700,710 L560,920 Z"/>
<path fill="#5e5e5e" d="M900,0 L1480,0 L1290,380 L930,390 L850,380 Z"/>
<path fill="#505050" d="M1220,0 L1480,0 L1290,380 L1240,360 Z"/>
<path fill="#5a5a5a" d="M1600,380 L1770,150 L1800,0 L1990,0 L1990,950 L1850,980 L1720,1000 L1590,900 L1500,900 L1590,660 L1670,480 Z"/>
<path fill="#3a3a3a" d="M1600,380 L1760,200 L1860,500 L1700,560 Z"/>
<path fill="#8c8c8c" d="M1795,0 L1990,0 L1990,190 L1840,200 L1770,150 Z"/>
<path fill="#d8d8d8" d="M710,640 L850,380 L930,400 L1200,550 L1250,480 L1590,660 L1500,900 L1720,1000 L1900,1100 L1990,1150 L1990,1623 L1100,1623 L1150,1250 L900,1100 L750,1000 L560,920 Z"/>
<path fill="#ededed" d="M1480,0 L1800,0 L1770,150 L1600,380 L1670,480 L1590,660 L1250,480 L1290,380 Z"/>
<path fill="#c6c6c6" d="M1180,560 L1400,600 L1460,760 L1250,760 L1150,680 Z"/>
<path fill="#b2b2b2" d="M1040,780 L1250,760 L1460,760 L1540,940 L1480,1000 L1200,980 L1050,900 Z"/>
<path fill="#707070" d="M1480,720 L1600,700 L1750,760 L1720,1000 L1540,940 Z"/>
<path fill="#c4c4c4" d="M560,920 L700,770 L820,800 L800,960 L750,1000 Z"/>
<path fill="#0e0e0e" d="M930,390 L990,250 L1290,380 L1200,550 Z"/>
<path fill="#222" d="M965,560 L1030,530 L1000,640 L970,630 Z"/>
<path fill="#101010" d="M830,860 L885,860 L885,905 L830,905 Z"/>
<path fill="#3a3a3a" d="M930,860 L1000,870 L1000,910 L930,900 Z"/>
<path fill="#585858" d="M0,1100 L200,880 L540,920 L750,1000 L900,1100 L1150,1250 L1100,1623 L0,1623 Z"/>
<path fill="#1c1c1c" d="M240,960 L470,1000 L520,1250 L480,1420 L250,1400 L200,1200 Z"/>
<path fill="#121212" d="M150,1280 L330,1300 L330,1380 L150,1350 Z"/>
<path fill="#858585" d="M530,1050 L1000,1150 L1000,1350 L530,1300 Z"/>
<path fill="#d8d8d8" d="M0,1440 L120,1440 L300,1560 L300,1623 L0,1623 Z"/>
<path fill="#e6e6e6" d="M1150,1300 L1500,1330 L1500,1623 L1100,1623 Z"/>
</g>
<path d="M200,880 L1100,1240 L1990,1580" stroke="#4a4a4a" stroke-width="12" fill="none" opacity="0.6"/>
<path d="M1250,480 L1590,660 M1500,900 L1990,1120 M1330,1330 L1540,940 M1590,660 L1500,900" stroke="#777" stroke-width="8" fill="none" opacity="0.5"/>
</g>
<rect x="44" y="646" width="568" height="464" fill="url(#pn1)" clip-path="url(#cc1)" style="mix-blend-mode:overlay"/>
<g transform="translate(44,646) scale(0.2847)">
<path fill="#fefefe" d="M0,0 L305,0 L285,250 L262,520 L242,770 L0,1115 Z"/>
<path d="M1842,120 L1905,305 L1842,275 L1778,300 Z" fill="#000"/>
<g stroke="#ee1111" stroke-width="30" fill="none">
<path d="M1298,595 L1298,650 M1238,635 L1358,635 M1298,650 L1262,700 M1298,650 L1334,700"/>
</g>
</g>
<text x="53.5" y="706.2" class="t" font-size="54" letter-spacing="1.5">(1)</text>
<g transform="translate(44,646) scale(0.2847)">
<rect x="95" y="1485" width="520" height="62" fill="#fff"/>
<rect x="110" y="1498" width="505" height="34" fill="#000"/>
<rect x="612" y="1492" width="505" height="46" fill="#fff" stroke="#000" stroke-width="12"/>
</g>
</g>
<g class="s" fill="#e2e200">
<text transform="translate(62.5,1052.0) scale(0.9,1)" font-size="30.0" font-weight="bold" x="-1">0</text>
<text transform="translate(207.7,1052.0) scale(0.9,1)" font-size="30.0" font-weight="bold" x="-1">3</text>
<text transform="translate(354.3,1052.0) scale(0.9,1)" font-size="30.0" font-weight="bold" x="-1">6</text>
<text x="369.3" y="1082.0" font-size="32.0" font-weight="bold">Km</text>
</g>

<!-- c2 -->
<g clip-path="url(#cc2)">
<rect x="612" y="649" width="572" height="458" fill="#ffff00"/>
<g transform="translate(612,649) scale(0.28672)" stroke="#808080" stroke-width="12">
<path d="M0,0 L340,0 L330,100 L315,200 L300,350 L285,500 L270,650 L255,800 L230,900 L160,1000 L100,1080 L50,1150 L15,1200 L0,1210 Z" fill="#fff"/>
<path fill="#e60000" d="M1530,0 L1835,0 L1820,100 L1800,200 L1760,260 L1700,320 L1640,380 L1600,430 L1640,460 L1690,510 L1680,560 L1630,640 L1600,690 L1560,680 L1500,650 L1470,650 L1520,720 L1560,800 L1570,850 L1590,840 L1600,720 L1640,730 L1700,770 L1760,810 L1760,860 L1730,880 L1720,950 L1720,1070 L1760,1100 L1800,1120 L1850,1140 L1910,1180 L1900,1210 L1840,1260 L1800,1320 L1785,1380 L1800,1420 L1850,1350 L1930,1260 L1990,1240 L1990,1600 L1760,1600 L1700,1520 L1640,1520 L1560,1520 L1480,1530 L1440,1600 L1110,1600 L1130,1500 L1160,1440 L1200,1380 L1230,1320 L1200,1300 L1150,1280 L1100,1250 L1050,1220 L1010,1190 L1000,1140 L980,1150 L970,1180 L920,1150 L860,1130 L800,1100 L740,1070 L700,1040 L660,1010 L630,1000 L590,970 L600,930 L640,890 L680,880 L700,830 L740,800 L780,780 L770,720 L750,680 L745,620 L780,580 L810,530 L840,460 L880,425 L920,440 L980,480 L1040,525 L1050,560 L1080,550 L1130,570 L1190,600 L1210,610 L1240,560 L1280,500 L1320,430 L1360,370 L1400,300 L1440,240 L1480,170 L1510,100 Z"/>
<path fill="#ffff00" d="M1050,560 L1020,600 L990,650 L980,672 L1030,672 L1050,610 Z"/>
<path fill="#ffff00" d="M1170,715 L1200,710 L1260,780 L1290,820 L1285,860 L1240,855 L1200,820 L1170,770 Z"/>
<path fill="#ffff00" d="M945,895 L970,890 L1030,935 L1020,970 L990,965 L945,925 Z"/>
<path fill="#ffff00" d="M690,880 L740,840 L770,850 L790,900 L800,960 L780,990 L720,985 L700,950 L680,910 Z"/>
<path fill="#ffff00" d="M1422,1128 L1458,1125 L1460,1160 L1425,1160 Z"/>
<path fill="#b4b4b4" d="M850,895 L888,890 L890,940 L852,942 Z"/>
<path fill="#e60000" d="M0,1410 L60,1420 L110,1440 L150,1460 L170,1500 L300,1540 L350,1600 L0,1600 Z"/>
<path fill="#e60000" d="M430,0 L570,0 L560,50 L440,50 Z"/>
<path fill="#b4b4b4" d="M400,45 L470,40 L465,110 L405,110 Z"/>
<path fill="#e60000" d="M1030,0 L1235,0 L1220,100 L1160,100 L1140,60 L1100,60 L1030,40 Z"/>
<path fill="#8a8a8a" d="M1820,620 L1865,620 L1865,640 L1820,640 Z"/>
<path fill="#8a8a8a" d="M1815,682 L1850,682 L1850,710 L1815,710 Z"/>
<path fill="#8a8a8a" d="M1872,692 L1908,692 L1908,720 L1872,720 Z"/>
<path fill="#8a8a8a" d="M1935,128 L1968,128 L1968,155 L1935,155 Z"/>
<path fill="#8a8a8a" d="M1935,212 L1960,212 L1960,235 L1935,235 Z"/>
<path fill="#8a8a8a" d="M1792,826 L1822,826 L1822,855 L1792,855 Z"/>
<path fill="#8a8a8a" d="M660,292 L690,292 L690,315 L660,315 Z"/>
<path fill="#8a8a8a" d="M1310,1330 L1330,1330 L1330,1360 L1310,1360 Z"/>
<path fill="#8a8a8a" d="M1725,880 L1745,880 L1745,915 L1725,915 Z"/>
<path fill="#b4b4b4" d="M740,1540 L790,1540 L790,1600 L740,1600 Z"/>
<path d="M1815,180 L1880,372 L1818,340 L1758,372 Z" fill="#000" stroke="none"/>
</g>
<text x="625.6" y="705.3" class="t" font-size="58" letter-spacing="2">(2)</text>
<g transform="translate(612,649) scale(0.28672)">
<rect x="80" y="1470" width="515" height="60" fill="#000"/>
<rect x="595" y="1475" width="500" height="50" fill="#fff" stroke="#000" stroke-width="11"/>
<g class="s" font-size="100" font-weight="bold" fill="#1a1a00">
<text x="62" y="1424">0</text>
<text x="558" y="1424">3</text>
<text x="1068" y="1424">6</text>
<text x="1128" y="1514">Km</text>
</g>
</g>
</g>

<!-- d1 -->
<g clip-path="url(#cd1)">
<rect x="1258" y="646" width="564" height="460" fill="#6e6e6e"/>
<g transform="translate(1258,646) scale(0.2827)">
<g filter="url(#blur4c)">
<path fill="#777777" d="M345,0 L1000,0 L1060,260 L990,330 L850,440 L760,590 L600,880 L260,850 L290,400 Z"/>
<path fill="#2e2e2e" d="M740,30 L1030,30 L1030,180 L860,170 L760,120 Z"/>
<path fill="#9a9a9a" d="M620,150 L760,130 L860,200 L700,280 L620,250 Z"/>
<path fill="#6e6e6e" d="M1000,0 L1520,0 L1440,210 L1330,380 L1050,260 Z"/>
<path fill="#2e2e2e" d="M990,330 L1050,260 L1330,380 L1240,550 L1010,430 Z"/>
<path fill="#7a7a7a" d="M290,440 L760,420 L760,590 L600,880 L270,850 Z"/>
<path fill="#151515" d="M420,320 L500,320 L480,420 L420,420 Z"/>
<path fill="#3a3a3a" d="M550,580 L610,580 L600,700 L560,700 Z"/>
<path fill="#5a5a5a" d="M1640,380 L1760,230 L1850,100 L1850,0 L1990,0 L1990,1100 L1900,1060 L1760,1000 L1870,800 L1640,640 L1720,470 Z"/>
<path fill="#3a3a3a" d="M1650,480 L1800,520 L1780,650 L1640,640 Z"/>
<path fill="#383838" d="M1760,860 L1900,880 L1900,1080 L1760,1000 Z"/>
<path fill="#ebebeb" d="M890,850 L1060,510 L1230,560 L1330,380 L1440,210 L1520,0 L1850,0 L1850,100 L1760,230 L1640,380 L1720,470 L1640,640 L1870,800 L1760,1000 L1900,1060 L1990,1100 L1990,1620 L1500,1620 L1200,1300 L1080,1160 L1130,1040 L950,950 Z"/>
<path fill="#d6d6d6" d="M1200,1250 L1500,1300 L1700,1500 L1500,1620 L1250,1500 Z"/>
<path fill="#141414" d="M760,590 L850,440 L1060,480 L990,620 L890,850 L820,900 L780,1000 L700,990 L680,800 Z"/>
<path fill="#d8d8d8" d="M600,880 L700,880 L700,960 L600,960 Z"/>
<path fill="#dadada" d="M800,940 L940,960 L950,1080 L810,1060 Z"/>
<path fill="#282828" d="M960,970 L1130,1040 L1080,1160 L950,1100 Z"/>
<path fill="#6e6e6e" d="M0,1180 L240,870 L600,880 L950,1080 L1080,1160 L1200,1300 L1200,1440 L0,1440 Z"/>
<path fill="#5c5c5c" d="M300,1000 L700,1050 L800,1300 L400,1300 Z"/>
<path fill="#737373" d="M0,1440 L1200,1440 L1200,1620 L0,1620 Z"/>
<path fill="#b8b8b8" d="M0,1470 L250,1470 L300,1620 L0,1620 Z"/>
<path fill="#8a8a8a" d="M600,1480 L1000,1480 L1050,1620 L600,1620 Z"/>
<path fill="#1a1a1a" d="M370,1340 L490,1340 L490,1440 L370,1440 Z"/>
<path fill="#8e8e8e" d="M1200,1440 L1500,1450 L1700,1620 L1200,1620 Z"/>
<path fill="#7a7a7a" d="M1480,1500 L1700,1500 L1700,1620 L1480,1620 Z"/>
</g>
<path d="M240,870 L1080,1160 L1990,1600" stroke="#3a3a3a" stroke-width="12" fill="none" opacity="0.6"/>
<path d="M1230,560 L1640,640 M1130,1040 L1500,1150 L1990,1330 M1640,640 L1350,1290 M1230,560 L1060,1060" stroke="#8a8a8a" stroke-width="8" fill="none" opacity="0.55"/>
</g>
<rect x="1258" y="646" width="564" height="460" fill="url(#pn2)" clip-path="url(#cd1)" style="mix-blend-mode:overlay"/>
<g transform="translate(1258,646) scale(0.2827)">
<path fill="#fefefe" d="M0,0 L345,0 L320,300 L295,560 L268,840 L0,1190 Z"/>
<path d="M1860,120 L1915,312 L1860,280 L1800,320 Z" fill="#000"/>
<g stroke="#ee1111" stroke-width="30" fill="none">
<path d="M1350,598 L1350,652 M1290,638 L1410,638 M1350,652 L1315,702 M1350,652 L1385,702"/>
</g>
</g>
<text x="1267.5" y="701.8" class="t" font-size="54" letter-spacing="1.5">(1)</text>
<g transform="translate(1258,646) scale(0.2827)">
<rect x="55" y="1513" width="525" height="48" fill="#000"/>
<rect x="580" y="1517" width="505" height="40" fill="#fff" stroke="#000" stroke-width="12"/>
</g>
</g>
<g class="s" fill="#23233f">
<text transform="translate(1269.3,1063.0) scale(0.9,1)" font-size="31.5" x="-1">0</text>
<text transform="translate(1412.0,1063.0) scale(0.9,1)" font-size="31.5" x="-1">3</text>
<text transform="translate(1556.0,1063.0) scale(0.9,1)" font-size="31.5" x="-1">6</text>
<text x="1571.7" y="1087.0" font-size="28.5" font-weight="bold">Km</text>
</g>

<!-- d2 -->
<g clip-path="url(#cd2)">
<rect x="1826" y="646" width="548" height="456" fill="#ffff00"/>
<g transform="translate(1826,646) scale(0.27465)" stroke="#808080" stroke-width="12">
<path d="M0,0 L385,0 L370,100 L350,230 L335,350 L320,480 L305,600 L290,760 L270,880 L240,960 L200,1030 L140,1120 L80,1200 L30,1270 L0,1300 Z" fill="#fff"/>
<path fill="#e60000" d="M720,0 L1400,0 L1370,30 L1320,60 L1290,90 L1270,140 L1230,130 L1170,110 L1130,80 L1090,60 L1040,45 L900,45 L750,45 Z"/>
<path fill="#e60000" d="M1440,0 L1990,0 L1990,1660 L1180,1660 L1200,1560 L1240,1500 L1280,1430 L1300,1380 L1260,1360 L1200,1320 L1120,1290 L1120,1220 L1160,1180 L1150,1140 L1100,1120 L1040,1090 L990,1080 L960,1050 L900,1040 L880,1000 L900,960 L940,970 L920,930 L900,880 L900,840 L940,800 L960,770 L940,720 L920,680 L880,660 L845,640 L850,620 L900,610 L950,590 L960,570 L920,540 L900,490 L930,470 L990,490 L1050,540 L1110,580 L1150,600 L1200,630 L1240,650 L1290,650 L1320,600 L1360,530 L1400,460 L1440,390 L1480,320 L1520,250 L1550,170 L1570,110 L1600,70 L1560,40 L1440,30 Z"/>
<path fill="#ffff00" d="M1925,0 L1990,0 L1990,905 L1940,910 L1870,870 L1800,830 L1720,790 L1680,760 L1720,700 L1760,620 L1770,560 L1700,500 L1690,460 L1720,420 L1760,380 L1800,340 L1860,300 L1890,270 L1905,200 L1920,80 Z"/>
<path fill="#ffff00" d="M1990,1000 L1900,960 L1850,1010 L1820,1060 L1815,1120 L1840,1160 L1890,1200 L1950,1160 L1990,1120 Z"/>
<path fill="#ffff00" d="M1905,1425 L1960,1410 L1975,1480 L1910,1480 Z"/>
<path fill="#ffff00" d="M900,960 L950,965 L955,1000 L905,1000 Z"/>
<path fill="#e60000" d="M0,1490 L60,1500 L120,1560 L200,1580 L280,1600 L330,1660 L0,1660 Z"/>
<path fill="#e60000" d="M800,1600 L850,1585 L900,1590 L950,1620 L960,1660 L800,1660 Z"/>
<path fill="#e60000" d="M610,1020 L680,915 L720,920 L740,1000 L780,1100 L740,1110 L680,1090 L620,1050 Z"/>
<path fill="#e60000" d="M760,740 L790,730 L800,780 L850,820 L840,870 L800,880 L810,920 L840,980 L870,1010 L860,1060 L820,1070 L800,1040 L790,980 L770,900 L760,860 L780,820 L760,780 Z"/>
<path fill="#e60000" d="M880,1060 L950,1040 L980,1100 L970,1160 L930,1140 L890,1110 Z"/>
<path fill="#e60000" d="M840,1130 L880,1130 L910,1170 L900,1185 L850,1170 Z"/>
<path fill="#ffff00" d="M1050,690 L1078,690 L1078,722 L1050,722 Z"/>
<path fill="#808080" d="M975,690 L1010,690 L1010,730 L975,730 Z"/>
<path fill="#808080" d="M950,760 L995,760 L995,790 L950,790 Z"/>
<path fill="#b4b4b4" d="M440,165 L520,150 L560,140 L610,150 L610,220 L590,250 L530,250 L470,210 L440,180 Z"/>
<path fill="#b4b4b4" d="M400,45 L450,40 L450,100 L400,100 Z"/>
<path fill="#808080" d="M650,238 L675,238 L675,270 L650,270 Z"/>
<path fill="#8a8a8a" d="M1070,238 L1115,238 L1115,265 L1070,265 Z"/>
<path fill="#8a8a8a" d="M1532,102 L1575,102 L1575,130 L1532,130 Z"/>
<path fill="#808080" d="M1920,668 L1955,668 L1955,690 L1920,690 Z"/>
<path fill="#b4b4b4" d="M355,945 L395,940 L430,965 L410,985 L360,982 Z"/>
<path fill="#808080" d="M420,912 L455,912 L455,935 L420,935 Z"/>
<path fill="#808080" d="M1015,1222 L1050,1220 L1080,1240 L1075,1265 L1020,1255 Z"/>
<path fill="#8a8a8a" d="M1112,1198 L1158,1198 L1158,1225 L1112,1225 Z"/>
<path fill="#ffff00" d="M1502,1198 L1538,1198 L1538,1240 L1502,1240 Z"/>
<path fill="#808080" d="M1412,1332 L1440,1332 L1440,1375 L1412,1375 Z"/>
<path fill="none" d="M1375,1415 L1640,1560"/>
<path fill="none" d="M1690,1575 L1760,1620"/>
<path fill="#808080" d="M160,1575 L190,1575 L190,1610 L160,1610 Z"/>
<path d="M1845,170 L1905,375 L1845,322 L1780,370 Z" fill="#000" stroke="none"/>
</g>
<text x="1838.9" y="701.6" class="t" font-size="58" letter-spacing="2">(2)</text>
<g transform="translate(1826,646) scale(0.27465)">
<rect x="55" y="1515" width="540" height="55" fill="#000"/>
<rect x="595" y="1520" width="520" height="45" fill="#fff" stroke="#000" stroke-width="11"/>
<g class="s" font-size="108" font-weight="bold" fill="#1a1a00">
<text x="38" y="1472">0</text>
<text x="552" y="1472">3</text>
<text x="1082" y="1472">6</text>
<text x="1143" y="1566">Km</text>
</g>
<text x="1828" y="108" class="s" font-size="52" fill="#6a1010">N</text>
</g>
</g>

<!-- f -->
<rect x="1827" y="1146" width="546" height="986.6" fill="#fff" stroke="#000" stroke-width="3.4"/>
<g transform="translate(1800,1120) scale(0.56977)">
<path d="M588,320 L610,330 L650,338 L700,333 L740,312 L770,272 L800,275 L850,290 L870,315 L880,370 L885,405 L900,415 L885,430 L882,460 L895,490 L900,520 L910,560 L925,575 L935,590 L930,620 L920,660 L910,685 L890,700 L872,710 L862,740 L860,770 L850,790 L845,815 L820,815 L800,805 L785,810 L775,840 L760,870 L750,905 L740,925 L725,935 L715,955 L710,980 L700,1000 L680,1015 L660,1035 L650,1050 L640,1065 L625,1080 L625,1110 L640,1130 L645,1150 L635,1165 L615,1180 L595,1195 L585,1220 L590,1245 L605,1265 L595,1280 L575,1295 L560,1320 L545,1350 L535,1380 L525,1400 L520,1420 L500,1430 L480,1440 L472,1470 L470,1500 L472,1530 L475,1555 L125,1495 L130,1450 L140,1380 L165,1320 L195,1250 L225,1180 L245,1110 L275,1100 L315,1080 L345,1050 L355,1020 L395,995 L430,970 L460,940 L485,900 L495,860 L505,800 L510,745 L525,720 L540,700 L540,680 L528,650 L527,600 L530,530 L530,470 L535,430 L550,400 L565,365 Z" fill="#dedede" stroke="#7a7a7a" stroke-width="4"/>
</g>
<path fill="#e60000" fill-rule="evenodd" d="M2059.7,1574.5 H2178 V1670.7 H2059.7 Z M2074.6,1585.8 V1660.2 H2167.2 V1585.8 Z"/>
<text x="1850" y="1203.4" class="t" font-size="50">f)</text>
<text x="2334.5" y="1184" class="s" font-size="17" fill="#b8b8c8" text-anchor="middle">N</text>
<path d="M2336,1192 L2355,1249 L2336,1239 L2316.5,1248 Z" fill="#000"/>
<g class="s" font-size="30" font-weight="bold" fill="#1a1a2a">
<text x="1855" y="2082.4">0</text>
<text x="1941" y="2082.4">10</text>
<text x="2030" y="2082.4">20</text>
<text x="2057" y="2108.8">Km</text>
</g>
<rect x="1864.5" y="2095.5" width="185.8" height="14.9" fill="#fff" stroke="#000" stroke-width="3"/>
<rect x="1863" y="2094" width="96" height="18" fill="#000"/>

<!-- frames -->
<g fill="none" stroke="#000" stroke-width="3.4">
<rect x="50.7" y="95.7" width="552.3" height="456.5"/>
<rect x="610.7" y="99.5" width="552.8" height="456.2"/>
<rect x="1241.6" y="95.8" width="556.5" height="456.4"/>
<rect x="1805.5" y="88.1" width="578.8" height="463.9"/>
<rect x="46.9" y="648.7" width="560" height="456.1"/>
<rect x="614.7" y="652.1" width="563.8" height="448.9"/>
<rect x="1260" y="648.7" width="556.5" height="452.4"/>
<rect x="1828" y="648.5" width="541.4" height="449.1"/>
<rect x="1827" y="1146" width="1546" height="986.6" style="display:none"/>
</g>

<!-- chart -->
<line x1="219" x2="1763" y1="1191.0" y2="1191.0" stroke="#ebebeb" stroke-width="3"/>
<line x1="219" x2="1763" y1="1368.1" y2="1368.1" stroke="#ebebeb" stroke-width="3"/>
<line x1="219" x2="1763" y1="1545.2" y2="1545.2" stroke="#ebebeb" stroke-width="3"/>
<line x1="219" x2="1276" y1="1722.3" y2="1722.3" stroke="#ebebeb" stroke-width="3"/>
<line x1="219" x2="1276" y1="1899.4" y2="1899.4" stroke="#ebebeb" stroke-width="3"/>
<line x1="217" x2="217" y1="1189" y2="2078" stroke="#8a8a8a" stroke-width="4"/>
<line x1="215" x2="1763" y1="2076.8" y2="2076.8" stroke="#6f6f6f" stroke-width="3.5"/>
<path d="M281.5,1517.7 C303.0,1526.5 367.5,1553.0 410.5,1570.0 C453.5,1587.0 496.5,1611.6 539.5,1619.6 C582.5,1627.6 625.5,1618.3 668.5,1617.8 C711.5,1617.4 754.5,1617.4 797.5,1616.9 C840.5,1616.5 883.5,1616.2 926.5,1615.2 C969.5,1614.1 1012.5,1624.3 1055.5,1610.7 C1098.5,1597.1 1141.5,1542.8 1184.5,1533.7 C1227.5,1524.5 1270.5,1552.1 1313.5,1555.8 C1356.5,1559.5 1421.0,1555.8 1442.5,1555.8" fill="none" stroke="#2b2b2b" stroke-width="4"/>
<path d="M410.5,1698.4 C432.0,1701.9 496.5,1714.0 539.5,1719.6 C582.5,1725.3 625.5,1732.5 668.5,1732.0 C711.5,1731.6 754.5,1722.6 797.5,1717.0 C840.5,1711.4 883.5,1713.0 926.5,1698.4 C969.5,1683.8 1012.5,1643.9 1055.5,1629.3 C1098.5,1614.7 1141.5,1615.4 1184.5,1610.7 C1227.5,1606.0 1270.5,1602.6 1313.5,1601.0 C1356.5,1599.4 1399.5,1602.6 1442.5,1601.0 C1485.5,1599.4 1550.0,1592.9 1571.5,1591.2" fill="none" stroke="#2b2b2b" stroke-width="4" stroke-dasharray="33 14 3 14"/>
<path d="M281.5,1310.5 C303.0,1312.9 367.5,1319.1 410.5,1324.7 C453.5,1330.3 496.5,1337.0 539.5,1344.2 C582.5,1351.4 625.5,1359.5 668.5,1368.1 C711.5,1376.7 754.5,1397.5 797.5,1395.6 C840.5,1393.6 883.5,1369.9 926.5,1356.6 C969.5,1343.3 1012.5,1323.5 1055.5,1315.9 C1098.5,1308.3 1141.5,1312.0 1184.5,1311.0 C1227.5,1310.0 1270.5,1311.2 1313.5,1309.7 C1356.5,1308.1 1399.5,1301.5 1442.5,1301.7 C1485.5,1301.9 1528.5,1309.3 1571.5,1311.0 C1614.5,1312.7 1679.0,1311.6 1700.5,1311.8" fill="none" stroke="#4a4a4a" stroke-width="2.6" stroke-dasharray="2.6 4.2"/>
<path d="M281.5,1321.2 C303.0,1319.7 367.5,1315.7 410.5,1312.3 C453.5,1308.9 496.5,1290.9 539.5,1300.8 C582.5,1310.7 625.5,1364.1 668.5,1371.6 C711.5,1379.2 754.5,1354.7 797.5,1346.0 C840.5,1337.3 883.5,1326.5 926.5,1319.4 C969.5,1312.3 1012.5,1306.3 1055.5,1303.5 C1098.5,1300.7 1141.5,1305.9 1184.5,1302.6 C1227.5,1299.3 1270.5,1286.2 1313.5,1283.5 C1356.5,1280.9 1399.5,1287.0 1442.5,1286.6 C1485.5,1286.3 1528.5,1280.6 1571.5,1281.3 C1614.5,1282.1 1679.0,1289.4 1700.5,1291.1" fill="none" stroke="#2b2b2b" stroke-width="4.2" stroke-dasharray="19 9"/>
<line x1="1373" x2="1451.5" y1="1763.7" y2="1763.7" stroke="#2b2b2b" stroke-width="4.5"/>
<text x="1456" y="1782.5" class="t" font-size="48.5">1999–2000</text>
<line x1="1373" x2="1451.5" y1="1850.5" y2="1850.5" stroke="#2b2b2b" stroke-width="4" stroke-dasharray="35 14 4 14"/>
<text x="1456" y="1869.3" class="t" font-size="48.5">2006–2007</text>
<line x1="1373" x2="1451.5" y1="1936.0" y2="1936.0" stroke="#3a3a3a" stroke-width="2.8" stroke-dasharray="3 4.3"/>
<text x="1456" y="1954.8" class="t" font-size="48.5">2014–2015</text>
<line x1="1373" x2="1451.5" y1="2021.5" y2="2021.5" stroke="#2b2b2b" stroke-width="4.2" stroke-dasharray="18.5 12"/>
<text x="1456" y="2040.3" class="t" font-size="48.5">2019–2020</text>
<text class="t" font-size="52" text-anchor="end" transform="translate(175.5,1207.8) scale(0.9,1)">1</text>
<text class="t" font-size="52" text-anchor="end" transform="translate(175.5,1384.9) scale(0.9,1)">0.8</text>
<text class="t" font-size="52" text-anchor="end" transform="translate(175.5,1562.0) scale(0.9,1)">0.6</text>
<text class="t" font-size="52" text-anchor="end" transform="translate(175.5,1739.1) scale(0.9,1)">0.4</text>
<text class="t" font-size="52" text-anchor="end" transform="translate(175.5,1916.2) scale(0.9,1)">0.2</text>
<text class="t" font-size="52" text-anchor="end" transform="translate(175.5,2093.3) scale(0.9,1)">0</text>
<text x="280.0" y="2149.2" class="t" font-size="48.5" text-anchor="middle">Jun</text>
<text x="409.0" y="2149.2" class="t" font-size="48.5" text-anchor="middle">Jul</text>
<text x="538.0" y="2149.2" class="t" font-size="48.5" text-anchor="middle">Aug</text>
<text x="667.0" y="2149.2" class="t" font-size="48.5" text-anchor="middle">Sep</text>
<text x="796.0" y="2149.2" class="t" font-size="48.5" text-anchor="middle">Oct</text>
<text x="925.0" y="2149.2" class="t" font-size="48.5" text-anchor="middle">Nov</text>
<text x="1054.0" y="2149.2" class="t" font-size="48.5" text-anchor="middle">Dec</text>
<text x="1183.0" y="2149.2" class="t" font-size="48.5" text-anchor="middle">Jan</text>
<text x="1312.0" y="2149.2" class="t" font-size="48.5" text-anchor="middle">Feb</text>
<text x="1441.0" y="2149.2" class="t" font-size="48.5" text-anchor="middle">Mar</text>
<text x="1570.0" y="2149.2" class="t" font-size="48.5" text-anchor="middle">Apr</text>
<text x="1699.0" y="2149.2" class="t" font-size="48.5" text-anchor="middle">May</text>
<text x="956.5" y="2227.6" class="t" font-size="48.5" text-anchor="middle">Month</text>
<text class="t" font-size="47" text-anchor="middle" transform="translate(101.5,1633.6) rotate(-90)">NDVI</text>
<text x="56" y="1201" class="t" font-size="50">e)</text>
</svg></body></html>
